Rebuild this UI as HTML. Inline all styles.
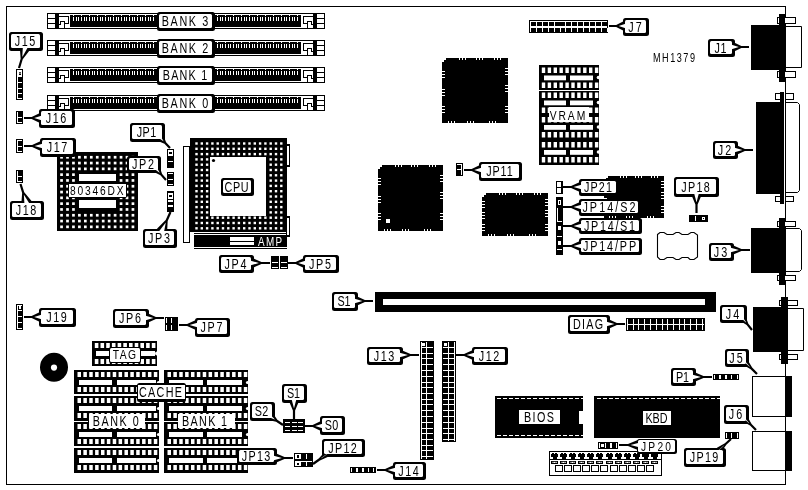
<!DOCTYPE html>
<html><head><meta charset="utf-8"><style>
html,body{margin:0;padding:0;background:#fff;width:808px;height:490px;overflow:hidden}
svg{display:block;filter:grayscale(1)}
</style></head><body>
<svg width="808" height="490" viewBox="0 0 808 490">
<rect x="0" y="0" width="808" height="490" fill="#fff"/>
<rect x="6" y="6" width="780" height="1" fill="#000"/>
<rect x="6" y="6" width="1" height="479" fill="#000"/>
<rect x="6" y="484" width="780" height="1" fill="#000"/>
<rect x="785" y="6" width="1" height="479" fill="#000"/>
<rect x="47" y="13" width="278" height="16" fill="#000"/>
<rect x="48" y="14" width="276" height="14" fill="#fff"/>
<rect x="55" y="14" width="1" height="14" fill="#000"/>
<rect x="48" y="18" width="8" height="1" fill="#000"/>
<rect x="48" y="23" width="8" height="1" fill="#000"/>
<rect x="56" y="14" width="3" height="14" fill="#000"/>
<rect x="59" y="16" width="10" height="1" fill="#000"/>
<rect x="68" y="16" width="1" height="8" fill="#000"/>
<rect x="64" y="23" width="5" height="1" fill="#000"/>
<rect x="64" y="21" width="1" height="7" fill="#000"/>
<rect x="60" y="21" width="5" height="1" fill="#000"/>
<rect x="60" y="21" width="1" height="4" fill="#000"/>
<rect x="59" y="24" width="2" height="1" fill="#000"/>
<rect x="70" y="15" width="88" height="12" fill="#000"/>
<rect x="214" y="15" width="87" height="12" fill="#000"/>
<rect x="73" y="17" width="1" height="4" fill="#fff"/>
<rect x="76" y="17" width="1" height="4" fill="#fff"/>
<rect x="78" y="17" width="1" height="4" fill="#fff"/>
<rect x="73" y="15" width="1" height="1" fill="#fff"/>
<rect x="81" y="17" width="1" height="4" fill="#fff"/>
<rect x="84" y="17" width="1" height="4" fill="#fff"/>
<rect x="86" y="17" width="1" height="4" fill="#fff"/>
<rect x="81" y="15" width="1" height="1" fill="#fff"/>
<rect x="89" y="17" width="1" height="4" fill="#fff"/>
<rect x="92" y="17" width="1" height="4" fill="#fff"/>
<rect x="94" y="17" width="1" height="4" fill="#fff"/>
<rect x="89" y="15" width="1" height="1" fill="#fff"/>
<rect x="97" y="17" width="1" height="4" fill="#fff"/>
<rect x="100" y="17" width="1" height="4" fill="#fff"/>
<rect x="102" y="17" width="1" height="4" fill="#fff"/>
<rect x="97" y="15" width="1" height="1" fill="#fff"/>
<rect x="105" y="17" width="1" height="4" fill="#fff"/>
<rect x="108" y="17" width="1" height="4" fill="#fff"/>
<rect x="110" y="17" width="1" height="4" fill="#fff"/>
<rect x="105" y="15" width="1" height="1" fill="#fff"/>
<rect x="113" y="17" width="1" height="4" fill="#fff"/>
<rect x="116" y="17" width="1" height="4" fill="#fff"/>
<rect x="118" y="17" width="1" height="4" fill="#fff"/>
<rect x="113" y="15" width="1" height="1" fill="#fff"/>
<rect x="121" y="17" width="1" height="4" fill="#fff"/>
<rect x="124" y="17" width="1" height="4" fill="#fff"/>
<rect x="126" y="17" width="1" height="4" fill="#fff"/>
<rect x="121" y="15" width="1" height="1" fill="#fff"/>
<rect x="129" y="17" width="1" height="4" fill="#fff"/>
<rect x="132" y="17" width="1" height="4" fill="#fff"/>
<rect x="134" y="17" width="1" height="4" fill="#fff"/>
<rect x="129" y="15" width="1" height="1" fill="#fff"/>
<rect x="137" y="17" width="1" height="4" fill="#fff"/>
<rect x="140" y="17" width="1" height="4" fill="#fff"/>
<rect x="142" y="17" width="1" height="4" fill="#fff"/>
<rect x="137" y="15" width="1" height="1" fill="#fff"/>
<rect x="145" y="17" width="1" height="4" fill="#fff"/>
<rect x="148" y="17" width="1" height="4" fill="#fff"/>
<rect x="150" y="17" width="1" height="4" fill="#fff"/>
<rect x="145" y="15" width="1" height="1" fill="#fff"/>
<rect x="153" y="17" width="1" height="4" fill="#fff"/>
<rect x="153" y="15" width="1" height="1" fill="#fff"/>
<rect x="217" y="17" width="1" height="4" fill="#fff"/>
<rect x="220" y="17" width="1" height="4" fill="#fff"/>
<rect x="222" y="17" width="1" height="4" fill="#fff"/>
<rect x="217" y="15" width="1" height="1" fill="#fff"/>
<rect x="225" y="17" width="1" height="4" fill="#fff"/>
<rect x="228" y="17" width="1" height="4" fill="#fff"/>
<rect x="230" y="17" width="1" height="4" fill="#fff"/>
<rect x="225" y="15" width="1" height="1" fill="#fff"/>
<rect x="233" y="17" width="1" height="4" fill="#fff"/>
<rect x="236" y="17" width="1" height="4" fill="#fff"/>
<rect x="238" y="17" width="1" height="4" fill="#fff"/>
<rect x="233" y="15" width="1" height="1" fill="#fff"/>
<rect x="241" y="17" width="1" height="4" fill="#fff"/>
<rect x="244" y="17" width="1" height="4" fill="#fff"/>
<rect x="246" y="17" width="1" height="4" fill="#fff"/>
<rect x="241" y="15" width="1" height="1" fill="#fff"/>
<rect x="249" y="17" width="1" height="4" fill="#fff"/>
<rect x="252" y="17" width="1" height="4" fill="#fff"/>
<rect x="254" y="17" width="1" height="4" fill="#fff"/>
<rect x="249" y="15" width="1" height="1" fill="#fff"/>
<rect x="257" y="17" width="1" height="4" fill="#fff"/>
<rect x="260" y="17" width="1" height="4" fill="#fff"/>
<rect x="262" y="17" width="1" height="4" fill="#fff"/>
<rect x="257" y="15" width="1" height="1" fill="#fff"/>
<rect x="265" y="17" width="1" height="4" fill="#fff"/>
<rect x="268" y="17" width="1" height="4" fill="#fff"/>
<rect x="270" y="17" width="1" height="4" fill="#fff"/>
<rect x="265" y="15" width="1" height="1" fill="#fff"/>
<rect x="273" y="17" width="1" height="4" fill="#fff"/>
<rect x="276" y="17" width="1" height="4" fill="#fff"/>
<rect x="278" y="17" width="1" height="4" fill="#fff"/>
<rect x="273" y="15" width="1" height="1" fill="#fff"/>
<rect x="281" y="17" width="1" height="4" fill="#fff"/>
<rect x="284" y="17" width="1" height="4" fill="#fff"/>
<rect x="286" y="17" width="1" height="4" fill="#fff"/>
<rect x="281" y="15" width="1" height="1" fill="#fff"/>
<rect x="289" y="17" width="1" height="4" fill="#fff"/>
<rect x="292" y="17" width="1" height="4" fill="#fff"/>
<rect x="294" y="17" width="1" height="4" fill="#fff"/>
<rect x="289" y="15" width="1" height="1" fill="#fff"/>
<rect x="297" y="17" width="1" height="4" fill="#fff"/>
<rect x="297" y="15" width="1" height="1" fill="#fff"/>
<rect x="303" y="16" width="10" height="1" fill="#000"/>
<rect x="303" y="16" width="1" height="8" fill="#000"/>
<rect x="303" y="23" width="5" height="1" fill="#000"/>
<rect x="307" y="21" width="1" height="7" fill="#000"/>
<rect x="307" y="21" width="5" height="1" fill="#000"/>
<rect x="311" y="21" width="1" height="4" fill="#000"/>
<rect x="311" y="24" width="2" height="1" fill="#000"/>
<rect x="313" y="14" width="3" height="14" fill="#000"/>
<rect x="316" y="14" width="1" height="14" fill="#000"/>
<rect x="316" y="18" width="8" height="1" fill="#000"/>
<rect x="316" y="23" width="8" height="1" fill="#000"/>
<rect x="47" y="40" width="278" height="16" fill="#000"/>
<rect x="48" y="41" width="276" height="14" fill="#fff"/>
<rect x="55" y="41" width="1" height="14" fill="#000"/>
<rect x="48" y="45" width="8" height="1" fill="#000"/>
<rect x="48" y="50" width="8" height="1" fill="#000"/>
<rect x="56" y="41" width="3" height="14" fill="#000"/>
<rect x="59" y="43" width="10" height="1" fill="#000"/>
<rect x="68" y="43" width="1" height="8" fill="#000"/>
<rect x="64" y="50" width="5" height="1" fill="#000"/>
<rect x="64" y="48" width="1" height="7" fill="#000"/>
<rect x="60" y="48" width="5" height="1" fill="#000"/>
<rect x="60" y="48" width="1" height="4" fill="#000"/>
<rect x="59" y="51" width="2" height="1" fill="#000"/>
<rect x="70" y="42" width="88" height="12" fill="#000"/>
<rect x="214" y="42" width="87" height="12" fill="#000"/>
<rect x="73" y="44" width="1" height="4" fill="#fff"/>
<rect x="76" y="44" width="1" height="4" fill="#fff"/>
<rect x="78" y="44" width="1" height="4" fill="#fff"/>
<rect x="73" y="42" width="1" height="1" fill="#fff"/>
<rect x="81" y="44" width="1" height="4" fill="#fff"/>
<rect x="84" y="44" width="1" height="4" fill="#fff"/>
<rect x="86" y="44" width="1" height="4" fill="#fff"/>
<rect x="81" y="42" width="1" height="1" fill="#fff"/>
<rect x="89" y="44" width="1" height="4" fill="#fff"/>
<rect x="92" y="44" width="1" height="4" fill="#fff"/>
<rect x="94" y="44" width="1" height="4" fill="#fff"/>
<rect x="89" y="42" width="1" height="1" fill="#fff"/>
<rect x="97" y="44" width="1" height="4" fill="#fff"/>
<rect x="100" y="44" width="1" height="4" fill="#fff"/>
<rect x="102" y="44" width="1" height="4" fill="#fff"/>
<rect x="97" y="42" width="1" height="1" fill="#fff"/>
<rect x="105" y="44" width="1" height="4" fill="#fff"/>
<rect x="108" y="44" width="1" height="4" fill="#fff"/>
<rect x="110" y="44" width="1" height="4" fill="#fff"/>
<rect x="105" y="42" width="1" height="1" fill="#fff"/>
<rect x="113" y="44" width="1" height="4" fill="#fff"/>
<rect x="116" y="44" width="1" height="4" fill="#fff"/>
<rect x="118" y="44" width="1" height="4" fill="#fff"/>
<rect x="113" y="42" width="1" height="1" fill="#fff"/>
<rect x="121" y="44" width="1" height="4" fill="#fff"/>
<rect x="124" y="44" width="1" height="4" fill="#fff"/>
<rect x="126" y="44" width="1" height="4" fill="#fff"/>
<rect x="121" y="42" width="1" height="1" fill="#fff"/>
<rect x="129" y="44" width="1" height="4" fill="#fff"/>
<rect x="132" y="44" width="1" height="4" fill="#fff"/>
<rect x="134" y="44" width="1" height="4" fill="#fff"/>
<rect x="129" y="42" width="1" height="1" fill="#fff"/>
<rect x="137" y="44" width="1" height="4" fill="#fff"/>
<rect x="140" y="44" width="1" height="4" fill="#fff"/>
<rect x="142" y="44" width="1" height="4" fill="#fff"/>
<rect x="137" y="42" width="1" height="1" fill="#fff"/>
<rect x="145" y="44" width="1" height="4" fill="#fff"/>
<rect x="148" y="44" width="1" height="4" fill="#fff"/>
<rect x="150" y="44" width="1" height="4" fill="#fff"/>
<rect x="145" y="42" width="1" height="1" fill="#fff"/>
<rect x="153" y="44" width="1" height="4" fill="#fff"/>
<rect x="153" y="42" width="1" height="1" fill="#fff"/>
<rect x="217" y="44" width="1" height="4" fill="#fff"/>
<rect x="220" y="44" width="1" height="4" fill="#fff"/>
<rect x="222" y="44" width="1" height="4" fill="#fff"/>
<rect x="217" y="42" width="1" height="1" fill="#fff"/>
<rect x="225" y="44" width="1" height="4" fill="#fff"/>
<rect x="228" y="44" width="1" height="4" fill="#fff"/>
<rect x="230" y="44" width="1" height="4" fill="#fff"/>
<rect x="225" y="42" width="1" height="1" fill="#fff"/>
<rect x="233" y="44" width="1" height="4" fill="#fff"/>
<rect x="236" y="44" width="1" height="4" fill="#fff"/>
<rect x="238" y="44" width="1" height="4" fill="#fff"/>
<rect x="233" y="42" width="1" height="1" fill="#fff"/>
<rect x="241" y="44" width="1" height="4" fill="#fff"/>
<rect x="244" y="44" width="1" height="4" fill="#fff"/>
<rect x="246" y="44" width="1" height="4" fill="#fff"/>
<rect x="241" y="42" width="1" height="1" fill="#fff"/>
<rect x="249" y="44" width="1" height="4" fill="#fff"/>
<rect x="252" y="44" width="1" height="4" fill="#fff"/>
<rect x="254" y="44" width="1" height="4" fill="#fff"/>
<rect x="249" y="42" width="1" height="1" fill="#fff"/>
<rect x="257" y="44" width="1" height="4" fill="#fff"/>
<rect x="260" y="44" width="1" height="4" fill="#fff"/>
<rect x="262" y="44" width="1" height="4" fill="#fff"/>
<rect x="257" y="42" width="1" height="1" fill="#fff"/>
<rect x="265" y="44" width="1" height="4" fill="#fff"/>
<rect x="268" y="44" width="1" height="4" fill="#fff"/>
<rect x="270" y="44" width="1" height="4" fill="#fff"/>
<rect x="265" y="42" width="1" height="1" fill="#fff"/>
<rect x="273" y="44" width="1" height="4" fill="#fff"/>
<rect x="276" y="44" width="1" height="4" fill="#fff"/>
<rect x="278" y="44" width="1" height="4" fill="#fff"/>
<rect x="273" y="42" width="1" height="1" fill="#fff"/>
<rect x="281" y="44" width="1" height="4" fill="#fff"/>
<rect x="284" y="44" width="1" height="4" fill="#fff"/>
<rect x="286" y="44" width="1" height="4" fill="#fff"/>
<rect x="281" y="42" width="1" height="1" fill="#fff"/>
<rect x="289" y="44" width="1" height="4" fill="#fff"/>
<rect x="292" y="44" width="1" height="4" fill="#fff"/>
<rect x="294" y="44" width="1" height="4" fill="#fff"/>
<rect x="289" y="42" width="1" height="1" fill="#fff"/>
<rect x="297" y="44" width="1" height="4" fill="#fff"/>
<rect x="297" y="42" width="1" height="1" fill="#fff"/>
<rect x="303" y="43" width="10" height="1" fill="#000"/>
<rect x="303" y="43" width="1" height="8" fill="#000"/>
<rect x="303" y="50" width="5" height="1" fill="#000"/>
<rect x="307" y="48" width="1" height="7" fill="#000"/>
<rect x="307" y="48" width="5" height="1" fill="#000"/>
<rect x="311" y="48" width="1" height="4" fill="#000"/>
<rect x="311" y="51" width="2" height="1" fill="#000"/>
<rect x="313" y="41" width="3" height="14" fill="#000"/>
<rect x="316" y="41" width="1" height="14" fill="#000"/>
<rect x="316" y="45" width="8" height="1" fill="#000"/>
<rect x="316" y="50" width="8" height="1" fill="#000"/>
<rect x="47" y="67" width="278" height="16" fill="#000"/>
<rect x="48" y="68" width="276" height="14" fill="#fff"/>
<rect x="55" y="68" width="1" height="14" fill="#000"/>
<rect x="48" y="72" width="8" height="1" fill="#000"/>
<rect x="48" y="77" width="8" height="1" fill="#000"/>
<rect x="56" y="68" width="3" height="14" fill="#000"/>
<rect x="59" y="70" width="10" height="1" fill="#000"/>
<rect x="68" y="70" width="1" height="8" fill="#000"/>
<rect x="64" y="77" width="5" height="1" fill="#000"/>
<rect x="64" y="75" width="1" height="7" fill="#000"/>
<rect x="60" y="75" width="5" height="1" fill="#000"/>
<rect x="60" y="75" width="1" height="4" fill="#000"/>
<rect x="59" y="78" width="2" height="1" fill="#000"/>
<rect x="70" y="69" width="88" height="12" fill="#000"/>
<rect x="214" y="69" width="87" height="12" fill="#000"/>
<rect x="73" y="71" width="1" height="4" fill="#fff"/>
<rect x="76" y="71" width="1" height="4" fill="#fff"/>
<rect x="78" y="71" width="1" height="4" fill="#fff"/>
<rect x="73" y="69" width="1" height="1" fill="#fff"/>
<rect x="81" y="71" width="1" height="4" fill="#fff"/>
<rect x="84" y="71" width="1" height="4" fill="#fff"/>
<rect x="86" y="71" width="1" height="4" fill="#fff"/>
<rect x="81" y="69" width="1" height="1" fill="#fff"/>
<rect x="89" y="71" width="1" height="4" fill="#fff"/>
<rect x="92" y="71" width="1" height="4" fill="#fff"/>
<rect x="94" y="71" width="1" height="4" fill="#fff"/>
<rect x="89" y="69" width="1" height="1" fill="#fff"/>
<rect x="97" y="71" width="1" height="4" fill="#fff"/>
<rect x="100" y="71" width="1" height="4" fill="#fff"/>
<rect x="102" y="71" width="1" height="4" fill="#fff"/>
<rect x="97" y="69" width="1" height="1" fill="#fff"/>
<rect x="105" y="71" width="1" height="4" fill="#fff"/>
<rect x="108" y="71" width="1" height="4" fill="#fff"/>
<rect x="110" y="71" width="1" height="4" fill="#fff"/>
<rect x="105" y="69" width="1" height="1" fill="#fff"/>
<rect x="113" y="71" width="1" height="4" fill="#fff"/>
<rect x="116" y="71" width="1" height="4" fill="#fff"/>
<rect x="118" y="71" width="1" height="4" fill="#fff"/>
<rect x="113" y="69" width="1" height="1" fill="#fff"/>
<rect x="121" y="71" width="1" height="4" fill="#fff"/>
<rect x="124" y="71" width="1" height="4" fill="#fff"/>
<rect x="126" y="71" width="1" height="4" fill="#fff"/>
<rect x="121" y="69" width="1" height="1" fill="#fff"/>
<rect x="129" y="71" width="1" height="4" fill="#fff"/>
<rect x="132" y="71" width="1" height="4" fill="#fff"/>
<rect x="134" y="71" width="1" height="4" fill="#fff"/>
<rect x="129" y="69" width="1" height="1" fill="#fff"/>
<rect x="137" y="71" width="1" height="4" fill="#fff"/>
<rect x="140" y="71" width="1" height="4" fill="#fff"/>
<rect x="142" y="71" width="1" height="4" fill="#fff"/>
<rect x="137" y="69" width="1" height="1" fill="#fff"/>
<rect x="145" y="71" width="1" height="4" fill="#fff"/>
<rect x="148" y="71" width="1" height="4" fill="#fff"/>
<rect x="150" y="71" width="1" height="4" fill="#fff"/>
<rect x="145" y="69" width="1" height="1" fill="#fff"/>
<rect x="153" y="71" width="1" height="4" fill="#fff"/>
<rect x="153" y="69" width="1" height="1" fill="#fff"/>
<rect x="217" y="71" width="1" height="4" fill="#fff"/>
<rect x="220" y="71" width="1" height="4" fill="#fff"/>
<rect x="222" y="71" width="1" height="4" fill="#fff"/>
<rect x="217" y="69" width="1" height="1" fill="#fff"/>
<rect x="225" y="71" width="1" height="4" fill="#fff"/>
<rect x="228" y="71" width="1" height="4" fill="#fff"/>
<rect x="230" y="71" width="1" height="4" fill="#fff"/>
<rect x="225" y="69" width="1" height="1" fill="#fff"/>
<rect x="233" y="71" width="1" height="4" fill="#fff"/>
<rect x="236" y="71" width="1" height="4" fill="#fff"/>
<rect x="238" y="71" width="1" height="4" fill="#fff"/>
<rect x="233" y="69" width="1" height="1" fill="#fff"/>
<rect x="241" y="71" width="1" height="4" fill="#fff"/>
<rect x="244" y="71" width="1" height="4" fill="#fff"/>
<rect x="246" y="71" width="1" height="4" fill="#fff"/>
<rect x="241" y="69" width="1" height="1" fill="#fff"/>
<rect x="249" y="71" width="1" height="4" fill="#fff"/>
<rect x="252" y="71" width="1" height="4" fill="#fff"/>
<rect x="254" y="71" width="1" height="4" fill="#fff"/>
<rect x="249" y="69" width="1" height="1" fill="#fff"/>
<rect x="257" y="71" width="1" height="4" fill="#fff"/>
<rect x="260" y="71" width="1" height="4" fill="#fff"/>
<rect x="262" y="71" width="1" height="4" fill="#fff"/>
<rect x="257" y="69" width="1" height="1" fill="#fff"/>
<rect x="265" y="71" width="1" height="4" fill="#fff"/>
<rect x="268" y="71" width="1" height="4" fill="#fff"/>
<rect x="270" y="71" width="1" height="4" fill="#fff"/>
<rect x="265" y="69" width="1" height="1" fill="#fff"/>
<rect x="273" y="71" width="1" height="4" fill="#fff"/>
<rect x="276" y="71" width="1" height="4" fill="#fff"/>
<rect x="278" y="71" width="1" height="4" fill="#fff"/>
<rect x="273" y="69" width="1" height="1" fill="#fff"/>
<rect x="281" y="71" width="1" height="4" fill="#fff"/>
<rect x="284" y="71" width="1" height="4" fill="#fff"/>
<rect x="286" y="71" width="1" height="4" fill="#fff"/>
<rect x="281" y="69" width="1" height="1" fill="#fff"/>
<rect x="289" y="71" width="1" height="4" fill="#fff"/>
<rect x="292" y="71" width="1" height="4" fill="#fff"/>
<rect x="294" y="71" width="1" height="4" fill="#fff"/>
<rect x="289" y="69" width="1" height="1" fill="#fff"/>
<rect x="297" y="71" width="1" height="4" fill="#fff"/>
<rect x="297" y="69" width="1" height="1" fill="#fff"/>
<rect x="303" y="70" width="10" height="1" fill="#000"/>
<rect x="303" y="70" width="1" height="8" fill="#000"/>
<rect x="303" y="77" width="5" height="1" fill="#000"/>
<rect x="307" y="75" width="1" height="7" fill="#000"/>
<rect x="307" y="75" width="5" height="1" fill="#000"/>
<rect x="311" y="75" width="1" height="4" fill="#000"/>
<rect x="311" y="78" width="2" height="1" fill="#000"/>
<rect x="313" y="68" width="3" height="14" fill="#000"/>
<rect x="316" y="68" width="1" height="14" fill="#000"/>
<rect x="316" y="72" width="8" height="1" fill="#000"/>
<rect x="316" y="77" width="8" height="1" fill="#000"/>
<rect x="47" y="95" width="278" height="16" fill="#000"/>
<rect x="48" y="96" width="276" height="14" fill="#fff"/>
<rect x="55" y="96" width="1" height="14" fill="#000"/>
<rect x="48" y="100" width="8" height="1" fill="#000"/>
<rect x="48" y="105" width="8" height="1" fill="#000"/>
<rect x="56" y="96" width="3" height="14" fill="#000"/>
<rect x="59" y="98" width="10" height="1" fill="#000"/>
<rect x="68" y="98" width="1" height="8" fill="#000"/>
<rect x="64" y="105" width="5" height="1" fill="#000"/>
<rect x="64" y="103" width="1" height="7" fill="#000"/>
<rect x="60" y="103" width="5" height="1" fill="#000"/>
<rect x="60" y="103" width="1" height="4" fill="#000"/>
<rect x="59" y="106" width="2" height="1" fill="#000"/>
<rect x="70" y="97" width="88" height="12" fill="#000"/>
<rect x="214" y="97" width="87" height="12" fill="#000"/>
<rect x="73" y="99" width="1" height="4" fill="#fff"/>
<rect x="76" y="99" width="1" height="4" fill="#fff"/>
<rect x="78" y="99" width="1" height="4" fill="#fff"/>
<rect x="73" y="97" width="1" height="1" fill="#fff"/>
<rect x="81" y="99" width="1" height="4" fill="#fff"/>
<rect x="84" y="99" width="1" height="4" fill="#fff"/>
<rect x="86" y="99" width="1" height="4" fill="#fff"/>
<rect x="81" y="97" width="1" height="1" fill="#fff"/>
<rect x="89" y="99" width="1" height="4" fill="#fff"/>
<rect x="92" y="99" width="1" height="4" fill="#fff"/>
<rect x="94" y="99" width="1" height="4" fill="#fff"/>
<rect x="89" y="97" width="1" height="1" fill="#fff"/>
<rect x="97" y="99" width="1" height="4" fill="#fff"/>
<rect x="100" y="99" width="1" height="4" fill="#fff"/>
<rect x="102" y="99" width="1" height="4" fill="#fff"/>
<rect x="97" y="97" width="1" height="1" fill="#fff"/>
<rect x="105" y="99" width="1" height="4" fill="#fff"/>
<rect x="108" y="99" width="1" height="4" fill="#fff"/>
<rect x="110" y="99" width="1" height="4" fill="#fff"/>
<rect x="105" y="97" width="1" height="1" fill="#fff"/>
<rect x="113" y="99" width="1" height="4" fill="#fff"/>
<rect x="116" y="99" width="1" height="4" fill="#fff"/>
<rect x="118" y="99" width="1" height="4" fill="#fff"/>
<rect x="113" y="97" width="1" height="1" fill="#fff"/>
<rect x="121" y="99" width="1" height="4" fill="#fff"/>
<rect x="124" y="99" width="1" height="4" fill="#fff"/>
<rect x="126" y="99" width="1" height="4" fill="#fff"/>
<rect x="121" y="97" width="1" height="1" fill="#fff"/>
<rect x="129" y="99" width="1" height="4" fill="#fff"/>
<rect x="132" y="99" width="1" height="4" fill="#fff"/>
<rect x="134" y="99" width="1" height="4" fill="#fff"/>
<rect x="129" y="97" width="1" height="1" fill="#fff"/>
<rect x="137" y="99" width="1" height="4" fill="#fff"/>
<rect x="140" y="99" width="1" height="4" fill="#fff"/>
<rect x="142" y="99" width="1" height="4" fill="#fff"/>
<rect x="137" y="97" width="1" height="1" fill="#fff"/>
<rect x="145" y="99" width="1" height="4" fill="#fff"/>
<rect x="148" y="99" width="1" height="4" fill="#fff"/>
<rect x="150" y="99" width="1" height="4" fill="#fff"/>
<rect x="145" y="97" width="1" height="1" fill="#fff"/>
<rect x="153" y="99" width="1" height="4" fill="#fff"/>
<rect x="153" y="97" width="1" height="1" fill="#fff"/>
<rect x="217" y="99" width="1" height="4" fill="#fff"/>
<rect x="220" y="99" width="1" height="4" fill="#fff"/>
<rect x="222" y="99" width="1" height="4" fill="#fff"/>
<rect x="217" y="97" width="1" height="1" fill="#fff"/>
<rect x="225" y="99" width="1" height="4" fill="#fff"/>
<rect x="228" y="99" width="1" height="4" fill="#fff"/>
<rect x="230" y="99" width="1" height="4" fill="#fff"/>
<rect x="225" y="97" width="1" height="1" fill="#fff"/>
<rect x="233" y="99" width="1" height="4" fill="#fff"/>
<rect x="236" y="99" width="1" height="4" fill="#fff"/>
<rect x="238" y="99" width="1" height="4" fill="#fff"/>
<rect x="233" y="97" width="1" height="1" fill="#fff"/>
<rect x="241" y="99" width="1" height="4" fill="#fff"/>
<rect x="244" y="99" width="1" height="4" fill="#fff"/>
<rect x="246" y="99" width="1" height="4" fill="#fff"/>
<rect x="241" y="97" width="1" height="1" fill="#fff"/>
<rect x="249" y="99" width="1" height="4" fill="#fff"/>
<rect x="252" y="99" width="1" height="4" fill="#fff"/>
<rect x="254" y="99" width="1" height="4" fill="#fff"/>
<rect x="249" y="97" width="1" height="1" fill="#fff"/>
<rect x="257" y="99" width="1" height="4" fill="#fff"/>
<rect x="260" y="99" width="1" height="4" fill="#fff"/>
<rect x="262" y="99" width="1" height="4" fill="#fff"/>
<rect x="257" y="97" width="1" height="1" fill="#fff"/>
<rect x="265" y="99" width="1" height="4" fill="#fff"/>
<rect x="268" y="99" width="1" height="4" fill="#fff"/>
<rect x="270" y="99" width="1" height="4" fill="#fff"/>
<rect x="265" y="97" width="1" height="1" fill="#fff"/>
<rect x="273" y="99" width="1" height="4" fill="#fff"/>
<rect x="276" y="99" width="1" height="4" fill="#fff"/>
<rect x="278" y="99" width="1" height="4" fill="#fff"/>
<rect x="273" y="97" width="1" height="1" fill="#fff"/>
<rect x="281" y="99" width="1" height="4" fill="#fff"/>
<rect x="284" y="99" width="1" height="4" fill="#fff"/>
<rect x="286" y="99" width="1" height="4" fill="#fff"/>
<rect x="281" y="97" width="1" height="1" fill="#fff"/>
<rect x="289" y="99" width="1" height="4" fill="#fff"/>
<rect x="292" y="99" width="1" height="4" fill="#fff"/>
<rect x="294" y="99" width="1" height="4" fill="#fff"/>
<rect x="289" y="97" width="1" height="1" fill="#fff"/>
<rect x="297" y="99" width="1" height="4" fill="#fff"/>
<rect x="297" y="97" width="1" height="1" fill="#fff"/>
<rect x="303" y="98" width="10" height="1" fill="#000"/>
<rect x="303" y="98" width="1" height="8" fill="#000"/>
<rect x="303" y="105" width="5" height="1" fill="#000"/>
<rect x="307" y="103" width="1" height="7" fill="#000"/>
<rect x="307" y="103" width="5" height="1" fill="#000"/>
<rect x="311" y="103" width="1" height="4" fill="#000"/>
<rect x="311" y="106" width="2" height="1" fill="#000"/>
<rect x="313" y="96" width="3" height="14" fill="#000"/>
<rect x="316" y="96" width="1" height="14" fill="#000"/>
<rect x="316" y="100" width="8" height="1" fill="#000"/>
<rect x="316" y="105" width="8" height="1" fill="#000"/>
<rect x="16" y="69" width="7" height="31" fill="#000"/>
<rect x="17" y="70" width="1" height="29" fill="#fff"/>
<rect x="17" y="70" width="5" height="1" fill="#fff"/>
<rect x="17" y="98" width="5" height="1" fill="#fff"/>
<rect x="18" y="71" width="4" height="5" fill="#fff"/>
<rect x="19" y="72" width="2" height="3" fill="#000"/>
<rect x="19.5" y="72.5" width="1" height="1.5" fill="#fff"/>
<rect x="17" y="76" width="5" height="1" fill="#fff"/>
<rect x="17" y="82" width="5" height="1" fill="#fff"/>
<rect x="17" y="88" width="5" height="1" fill="#fff"/>
<rect x="17" y="93" width="5" height="1" fill="#fff"/>
<rect x="16" y="111" width="7" height="13" fill="#000"/>
<rect x="17" y="112" width="1" height="11" fill="#fff"/>
<rect x="17" y="117" width="5" height="1" fill="#fff"/>
<rect x="17" y="122" width="5" height="1" fill="#fff"/>
<rect x="16" y="139" width="7" height="14" fill="#000"/>
<rect x="17" y="140" width="1" height="12" fill="#fff"/>
<rect x="17" y="140" width="5" height="1" fill="#fff"/>
<rect x="17" y="146" width="5" height="1" fill="#fff"/>
<rect x="17" y="151" width="5" height="1" fill="#fff"/>
<rect x="16" y="170" width="7" height="13" fill="#000"/>
<rect x="17" y="171" width="1" height="11" fill="#fff"/>
<rect x="17" y="176" width="5" height="1" fill="#fff"/>
<rect x="17" y="181" width="5" height="1" fill="#fff"/>
<rect x="16" y="304" width="7" height="26" fill="#000"/>
<rect x="17" y="305" width="1" height="24" fill="#fff"/>
<rect x="17" y="305" width="5" height="1" fill="#fff"/>
<rect x="17" y="328" width="5" height="1" fill="#fff"/>
<rect x="19" y="306" width="2" height="3" fill="#fff"/>
<rect x="17" y="310" width="5" height="1" fill="#fff"/>
<rect x="17" y="316" width="5" height="1" fill="#fff"/>
<rect x="17" y="322" width="5" height="1" fill="#fff"/>
<rect x="167" y="149" width="7" height="19" fill="#000"/>
<rect x="168" y="150" width="5" height="6" fill="#fff"/>
<rect x="169" y="152" width="3" height="2" fill="#000"/>
<rect x="168" y="161" width="5" height="1" fill="#fff"/>
<rect x="167" y="172" width="7" height="14" fill="#000"/>
<rect x="168" y="173" width="5" height="1" fill="#fff"/>
<rect x="168" y="179" width="5" height="1" fill="#fff"/>
<rect x="168" y="184" width="5" height="1" fill="#fff"/>
<rect x="167" y="191" width="7" height="21" fill="#000"/>
<rect x="168" y="193" width="5" height="6" fill="#fff"/>
<rect x="169" y="195" width="3" height="2" fill="#000"/>
<rect x="168" y="200" width="5" height="2" fill="#fff"/>
<rect x="168" y="205" width="5" height="2" fill="#fff"/>
<rect x="57" y="152" width="81" height="79" fill="#000"/>
<rect x="60.2" y="155.9" width="2.7" height="2.7" fill="#fff"/>
<rect x="66.15" y="155.9" width="2.7" height="2.7" fill="#fff"/>
<rect x="72.1" y="155.9" width="2.7" height="2.7" fill="#fff"/>
<rect x="78.05" y="155.9" width="2.7" height="2.7" fill="#fff"/>
<rect x="84" y="155.9" width="2.7" height="2.7" fill="#fff"/>
<rect x="89.95" y="155.9" width="2.7" height="2.7" fill="#fff"/>
<rect x="95.9" y="155.9" width="2.7" height="2.7" fill="#fff"/>
<rect x="101.85" y="155.9" width="2.7" height="2.7" fill="#fff"/>
<rect x="107.8" y="155.9" width="2.7" height="2.7" fill="#fff"/>
<rect x="113.75" y="155.9" width="2.7" height="2.7" fill="#fff"/>
<rect x="119.7" y="155.9" width="2.7" height="2.7" fill="#fff"/>
<rect x="125.65" y="155.9" width="2.7" height="2.7" fill="#fff"/>
<rect x="131.6" y="155.9" width="2.7" height="2.7" fill="#fff"/>
<rect x="60.2" y="161.7" width="2.7" height="2.7" fill="#fff"/>
<rect x="66.15" y="161.7" width="2.7" height="2.7" fill="#fff"/>
<rect x="72.1" y="161.7" width="2.7" height="2.7" fill="#fff"/>
<rect x="78.05" y="161.7" width="2.7" height="2.7" fill="#fff"/>
<rect x="84" y="161.7" width="2.7" height="2.7" fill="#fff"/>
<rect x="89.95" y="161.7" width="2.7" height="2.7" fill="#fff"/>
<rect x="95.9" y="161.7" width="2.7" height="2.7" fill="#fff"/>
<rect x="101.85" y="161.7" width="2.7" height="2.7" fill="#fff"/>
<rect x="107.8" y="161.7" width="2.7" height="2.7" fill="#fff"/>
<rect x="113.75" y="161.7" width="2.7" height="2.7" fill="#fff"/>
<rect x="119.7" y="161.7" width="2.7" height="2.7" fill="#fff"/>
<rect x="125.65" y="161.7" width="2.7" height="2.7" fill="#fff"/>
<rect x="131.6" y="161.7" width="2.7" height="2.7" fill="#fff"/>
<rect x="60.2" y="167.5" width="2.7" height="2.7" fill="#fff"/>
<rect x="66.15" y="167.5" width="2.7" height="2.7" fill="#fff"/>
<rect x="72.1" y="167.5" width="2.7" height="2.7" fill="#fff"/>
<rect x="78.05" y="167.5" width="2.7" height="2.7" fill="#fff"/>
<rect x="84" y="167.5" width="2.7" height="2.7" fill="#fff"/>
<rect x="89.95" y="167.5" width="2.7" height="2.7" fill="#fff"/>
<rect x="95.9" y="167.5" width="2.7" height="2.7" fill="#fff"/>
<rect x="101.85" y="167.5" width="2.7" height="2.7" fill="#fff"/>
<rect x="107.8" y="167.5" width="2.7" height="2.7" fill="#fff"/>
<rect x="113.75" y="167.5" width="2.7" height="2.7" fill="#fff"/>
<rect x="119.7" y="167.5" width="2.7" height="2.7" fill="#fff"/>
<rect x="125.65" y="167.5" width="2.7" height="2.7" fill="#fff"/>
<rect x="131.6" y="167.5" width="2.7" height="2.7" fill="#fff"/>
<rect x="60.2" y="173.3" width="2.7" height="2.7" fill="#fff"/>
<rect x="66.15" y="173.3" width="2.7" height="2.7" fill="#fff"/>
<rect x="72.1" y="173.3" width="2.7" height="2.7" fill="#fff"/>
<rect x="119.7" y="173.3" width="2.7" height="2.7" fill="#fff"/>
<rect x="125.65" y="173.3" width="2.7" height="2.7" fill="#fff"/>
<rect x="131.6" y="173.3" width="2.7" height="2.7" fill="#fff"/>
<rect x="60.2" y="179.1" width="2.7" height="2.7" fill="#fff"/>
<rect x="66.15" y="179.1" width="2.7" height="2.7" fill="#fff"/>
<rect x="72.1" y="179.1" width="2.7" height="2.7" fill="#fff"/>
<rect x="119.7" y="179.1" width="2.7" height="2.7" fill="#fff"/>
<rect x="125.65" y="179.1" width="2.7" height="2.7" fill="#fff"/>
<rect x="131.6" y="179.1" width="2.7" height="2.7" fill="#fff"/>
<rect x="60.2" y="184.9" width="2.7" height="2.7" fill="#fff"/>
<rect x="66.15" y="184.9" width="2.7" height="2.7" fill="#fff"/>
<rect x="72.1" y="184.9" width="2.7" height="2.7" fill="#fff"/>
<rect x="119.7" y="184.9" width="2.7" height="2.7" fill="#fff"/>
<rect x="125.65" y="184.9" width="2.7" height="2.7" fill="#fff"/>
<rect x="131.6" y="184.9" width="2.7" height="2.7" fill="#fff"/>
<rect x="60.2" y="190.7" width="2.7" height="2.7" fill="#fff"/>
<rect x="66.15" y="190.7" width="2.7" height="2.7" fill="#fff"/>
<rect x="72.1" y="190.7" width="2.7" height="2.7" fill="#fff"/>
<rect x="119.7" y="190.7" width="2.7" height="2.7" fill="#fff"/>
<rect x="125.65" y="190.7" width="2.7" height="2.7" fill="#fff"/>
<rect x="131.6" y="190.7" width="2.7" height="2.7" fill="#fff"/>
<rect x="60.2" y="196.5" width="2.7" height="2.7" fill="#fff"/>
<rect x="66.15" y="196.5" width="2.7" height="2.7" fill="#fff"/>
<rect x="72.1" y="196.5" width="2.7" height="2.7" fill="#fff"/>
<rect x="119.7" y="196.5" width="2.7" height="2.7" fill="#fff"/>
<rect x="125.65" y="196.5" width="2.7" height="2.7" fill="#fff"/>
<rect x="131.6" y="196.5" width="2.7" height="2.7" fill="#fff"/>
<rect x="60.2" y="202.3" width="2.7" height="2.7" fill="#fff"/>
<rect x="66.15" y="202.3" width="2.7" height="2.7" fill="#fff"/>
<rect x="72.1" y="202.3" width="2.7" height="2.7" fill="#fff"/>
<rect x="119.7" y="202.3" width="2.7" height="2.7" fill="#fff"/>
<rect x="125.65" y="202.3" width="2.7" height="2.7" fill="#fff"/>
<rect x="131.6" y="202.3" width="2.7" height="2.7" fill="#fff"/>
<rect x="60.2" y="208.1" width="2.7" height="2.7" fill="#fff"/>
<rect x="66.15" y="208.1" width="2.7" height="2.7" fill="#fff"/>
<rect x="72.1" y="208.1" width="2.7" height="2.7" fill="#fff"/>
<rect x="119.7" y="208.1" width="2.7" height="2.7" fill="#fff"/>
<rect x="125.65" y="208.1" width="2.7" height="2.7" fill="#fff"/>
<rect x="131.6" y="208.1" width="2.7" height="2.7" fill="#fff"/>
<rect x="60.2" y="213.9" width="2.7" height="2.7" fill="#fff"/>
<rect x="66.15" y="213.9" width="2.7" height="2.7" fill="#fff"/>
<rect x="72.1" y="213.9" width="2.7" height="2.7" fill="#fff"/>
<rect x="78.05" y="213.9" width="2.7" height="2.7" fill="#fff"/>
<rect x="84" y="213.9" width="2.7" height="2.7" fill="#fff"/>
<rect x="89.95" y="213.9" width="2.7" height="2.7" fill="#fff"/>
<rect x="95.9" y="213.9" width="2.7" height="2.7" fill="#fff"/>
<rect x="101.85" y="213.9" width="2.7" height="2.7" fill="#fff"/>
<rect x="107.8" y="213.9" width="2.7" height="2.7" fill="#fff"/>
<rect x="113.75" y="213.9" width="2.7" height="2.7" fill="#fff"/>
<rect x="119.7" y="213.9" width="2.7" height="2.7" fill="#fff"/>
<rect x="125.65" y="213.9" width="2.7" height="2.7" fill="#fff"/>
<rect x="131.6" y="213.9" width="2.7" height="2.7" fill="#fff"/>
<rect x="60.2" y="219.7" width="2.7" height="2.7" fill="#fff"/>
<rect x="66.15" y="219.7" width="2.7" height="2.7" fill="#fff"/>
<rect x="72.1" y="219.7" width="2.7" height="2.7" fill="#fff"/>
<rect x="78.05" y="219.7" width="2.7" height="2.7" fill="#fff"/>
<rect x="84" y="219.7" width="2.7" height="2.7" fill="#fff"/>
<rect x="89.95" y="219.7" width="2.7" height="2.7" fill="#fff"/>
<rect x="95.9" y="219.7" width="2.7" height="2.7" fill="#fff"/>
<rect x="101.85" y="219.7" width="2.7" height="2.7" fill="#fff"/>
<rect x="107.8" y="219.7" width="2.7" height="2.7" fill="#fff"/>
<rect x="113.75" y="219.7" width="2.7" height="2.7" fill="#fff"/>
<rect x="119.7" y="219.7" width="2.7" height="2.7" fill="#fff"/>
<rect x="125.65" y="219.7" width="2.7" height="2.7" fill="#fff"/>
<rect x="131.6" y="219.7" width="2.7" height="2.7" fill="#fff"/>
<rect x="60.2" y="225.5" width="2.7" height="2.7" fill="#fff"/>
<rect x="66.15" y="225.5" width="2.7" height="2.7" fill="#fff"/>
<rect x="72.1" y="225.5" width="2.7" height="2.7" fill="#fff"/>
<rect x="78.05" y="225.5" width="2.7" height="2.7" fill="#fff"/>
<rect x="84" y="225.5" width="2.7" height="2.7" fill="#fff"/>
<rect x="89.95" y="225.5" width="2.7" height="2.7" fill="#fff"/>
<rect x="95.9" y="225.5" width="2.7" height="2.7" fill="#fff"/>
<rect x="101.85" y="225.5" width="2.7" height="2.7" fill="#fff"/>
<rect x="107.8" y="225.5" width="2.7" height="2.7" fill="#fff"/>
<rect x="113.75" y="225.5" width="2.7" height="2.7" fill="#fff"/>
<rect x="119.7" y="225.5" width="2.7" height="2.7" fill="#fff"/>
<rect x="125.65" y="225.5" width="2.7" height="2.7" fill="#fff"/>
<rect x="131.6" y="225.5" width="2.7" height="2.7" fill="#fff"/>
<rect x="79" y="174" width="37" height="7" fill="#fff"/>
<rect x="79" y="200" width="37" height="8" fill="#fff"/>
<rect x="183" y="146" width="7" height="97" fill="#000"/>
<rect x="184" y="147" width="5" height="95" fill="#fff"/>
<rect x="190" y="138" width="97" height="94" fill="#000"/>
<rect x="195.3" y="142.3" width="2.4" height="2.4" fill="#fff"/>
<rect x="200.6" y="142.3" width="2.4" height="2.4" fill="#fff"/>
<rect x="205.9" y="142.3" width="2.4" height="2.4" fill="#fff"/>
<rect x="211.2" y="142.3" width="2.4" height="2.4" fill="#fff"/>
<rect x="216.5" y="142.3" width="2.4" height="2.4" fill="#fff"/>
<rect x="221.8" y="142.3" width="2.4" height="2.4" fill="#fff"/>
<rect x="227.1" y="142.3" width="2.4" height="2.4" fill="#fff"/>
<rect x="232.4" y="142.3" width="2.4" height="2.4" fill="#fff"/>
<rect x="237.7" y="142.3" width="2.4" height="2.4" fill="#fff"/>
<rect x="243" y="142.3" width="2.4" height="2.4" fill="#fff"/>
<rect x="248.3" y="142.3" width="2.4" height="2.4" fill="#fff"/>
<rect x="253.6" y="142.3" width="2.4" height="2.4" fill="#fff"/>
<rect x="258.9" y="142.3" width="2.4" height="2.4" fill="#fff"/>
<rect x="264.2" y="142.3" width="2.4" height="2.4" fill="#fff"/>
<rect x="269.5" y="142.3" width="2.4" height="2.4" fill="#fff"/>
<rect x="274.8" y="142.3" width="2.4" height="2.4" fill="#fff"/>
<rect x="280.1" y="142.3" width="2.4" height="2.4" fill="#fff"/>
<rect x="195.3" y="147.6" width="2.4" height="2.4" fill="#fff"/>
<rect x="200.6" y="147.6" width="2.4" height="2.4" fill="#fff"/>
<rect x="205.9" y="147.6" width="2.4" height="2.4" fill="#fff"/>
<rect x="211.2" y="147.6" width="2.4" height="2.4" fill="#fff"/>
<rect x="216.5" y="147.6" width="2.4" height="2.4" fill="#fff"/>
<rect x="221.8" y="147.6" width="2.4" height="2.4" fill="#fff"/>
<rect x="227.1" y="147.6" width="2.4" height="2.4" fill="#fff"/>
<rect x="232.4" y="147.6" width="2.4" height="2.4" fill="#fff"/>
<rect x="237.7" y="147.6" width="2.4" height="2.4" fill="#fff"/>
<rect x="243" y="147.6" width="2.4" height="2.4" fill="#fff"/>
<rect x="248.3" y="147.6" width="2.4" height="2.4" fill="#fff"/>
<rect x="253.6" y="147.6" width="2.4" height="2.4" fill="#fff"/>
<rect x="258.9" y="147.6" width="2.4" height="2.4" fill="#fff"/>
<rect x="264.2" y="147.6" width="2.4" height="2.4" fill="#fff"/>
<rect x="269.5" y="147.6" width="2.4" height="2.4" fill="#fff"/>
<rect x="274.8" y="147.6" width="2.4" height="2.4" fill="#fff"/>
<rect x="280.1" y="147.6" width="2.4" height="2.4" fill="#fff"/>
<rect x="195.3" y="152.9" width="2.4" height="2.4" fill="#fff"/>
<rect x="200.6" y="152.9" width="2.4" height="2.4" fill="#fff"/>
<rect x="205.9" y="152.9" width="2.4" height="2.4" fill="#fff"/>
<rect x="211.2" y="152.9" width="2.4" height="2.4" fill="#fff"/>
<rect x="216.5" y="152.9" width="2.4" height="2.4" fill="#fff"/>
<rect x="221.8" y="152.9" width="2.4" height="2.4" fill="#fff"/>
<rect x="227.1" y="152.9" width="2.4" height="2.4" fill="#fff"/>
<rect x="232.4" y="152.9" width="2.4" height="2.4" fill="#fff"/>
<rect x="237.7" y="152.9" width="2.4" height="2.4" fill="#fff"/>
<rect x="243" y="152.9" width="2.4" height="2.4" fill="#fff"/>
<rect x="248.3" y="152.9" width="2.4" height="2.4" fill="#fff"/>
<rect x="253.6" y="152.9" width="2.4" height="2.4" fill="#fff"/>
<rect x="258.9" y="152.9" width="2.4" height="2.4" fill="#fff"/>
<rect x="264.2" y="152.9" width="2.4" height="2.4" fill="#fff"/>
<rect x="269.5" y="152.9" width="2.4" height="2.4" fill="#fff"/>
<rect x="274.8" y="152.9" width="2.4" height="2.4" fill="#fff"/>
<rect x="280.1" y="152.9" width="2.4" height="2.4" fill="#fff"/>
<rect x="195.3" y="158.2" width="2.4" height="2.4" fill="#fff"/>
<rect x="200.6" y="158.2" width="2.4" height="2.4" fill="#fff"/>
<rect x="205.9" y="158.2" width="2.4" height="2.4" fill="#fff"/>
<rect x="269.5" y="158.2" width="2.4" height="2.4" fill="#fff"/>
<rect x="274.8" y="158.2" width="2.4" height="2.4" fill="#fff"/>
<rect x="280.1" y="158.2" width="2.4" height="2.4" fill="#fff"/>
<rect x="195.3" y="163.5" width="2.4" height="2.4" fill="#fff"/>
<rect x="200.6" y="163.5" width="2.4" height="2.4" fill="#fff"/>
<rect x="205.9" y="163.5" width="2.4" height="2.4" fill="#fff"/>
<rect x="269.5" y="163.5" width="2.4" height="2.4" fill="#fff"/>
<rect x="274.8" y="163.5" width="2.4" height="2.4" fill="#fff"/>
<rect x="280.1" y="163.5" width="2.4" height="2.4" fill="#fff"/>
<rect x="195.3" y="168.8" width="2.4" height="2.4" fill="#fff"/>
<rect x="200.6" y="168.8" width="2.4" height="2.4" fill="#fff"/>
<rect x="205.9" y="168.8" width="2.4" height="2.4" fill="#fff"/>
<rect x="269.5" y="168.8" width="2.4" height="2.4" fill="#fff"/>
<rect x="274.8" y="168.8" width="2.4" height="2.4" fill="#fff"/>
<rect x="280.1" y="168.8" width="2.4" height="2.4" fill="#fff"/>
<rect x="195.3" y="174.1" width="2.4" height="2.4" fill="#fff"/>
<rect x="200.6" y="174.1" width="2.4" height="2.4" fill="#fff"/>
<rect x="205.9" y="174.1" width="2.4" height="2.4" fill="#fff"/>
<rect x="269.5" y="174.1" width="2.4" height="2.4" fill="#fff"/>
<rect x="274.8" y="174.1" width="2.4" height="2.4" fill="#fff"/>
<rect x="280.1" y="174.1" width="2.4" height="2.4" fill="#fff"/>
<rect x="195.3" y="179.4" width="2.4" height="2.4" fill="#fff"/>
<rect x="200.6" y="179.4" width="2.4" height="2.4" fill="#fff"/>
<rect x="205.9" y="179.4" width="2.4" height="2.4" fill="#fff"/>
<rect x="269.5" y="179.4" width="2.4" height="2.4" fill="#fff"/>
<rect x="274.8" y="179.4" width="2.4" height="2.4" fill="#fff"/>
<rect x="280.1" y="179.4" width="2.4" height="2.4" fill="#fff"/>
<rect x="195.3" y="184.7" width="2.4" height="2.4" fill="#fff"/>
<rect x="200.6" y="184.7" width="2.4" height="2.4" fill="#fff"/>
<rect x="205.9" y="184.7" width="2.4" height="2.4" fill="#fff"/>
<rect x="269.5" y="184.7" width="2.4" height="2.4" fill="#fff"/>
<rect x="274.8" y="184.7" width="2.4" height="2.4" fill="#fff"/>
<rect x="280.1" y="184.7" width="2.4" height="2.4" fill="#fff"/>
<rect x="195.3" y="190" width="2.4" height="2.4" fill="#fff"/>
<rect x="200.6" y="190" width="2.4" height="2.4" fill="#fff"/>
<rect x="205.9" y="190" width="2.4" height="2.4" fill="#fff"/>
<rect x="269.5" y="190" width="2.4" height="2.4" fill="#fff"/>
<rect x="274.8" y="190" width="2.4" height="2.4" fill="#fff"/>
<rect x="280.1" y="190" width="2.4" height="2.4" fill="#fff"/>
<rect x="195.3" y="195.3" width="2.4" height="2.4" fill="#fff"/>
<rect x="200.6" y="195.3" width="2.4" height="2.4" fill="#fff"/>
<rect x="205.9" y="195.3" width="2.4" height="2.4" fill="#fff"/>
<rect x="269.5" y="195.3" width="2.4" height="2.4" fill="#fff"/>
<rect x="274.8" y="195.3" width="2.4" height="2.4" fill="#fff"/>
<rect x="280.1" y="195.3" width="2.4" height="2.4" fill="#fff"/>
<rect x="195.3" y="200.6" width="2.4" height="2.4" fill="#fff"/>
<rect x="200.6" y="200.6" width="2.4" height="2.4" fill="#fff"/>
<rect x="205.9" y="200.6" width="2.4" height="2.4" fill="#fff"/>
<rect x="269.5" y="200.6" width="2.4" height="2.4" fill="#fff"/>
<rect x="274.8" y="200.6" width="2.4" height="2.4" fill="#fff"/>
<rect x="280.1" y="200.6" width="2.4" height="2.4" fill="#fff"/>
<rect x="195.3" y="205.9" width="2.4" height="2.4" fill="#fff"/>
<rect x="200.6" y="205.9" width="2.4" height="2.4" fill="#fff"/>
<rect x="205.9" y="205.9" width="2.4" height="2.4" fill="#fff"/>
<rect x="269.5" y="205.9" width="2.4" height="2.4" fill="#fff"/>
<rect x="274.8" y="205.9" width="2.4" height="2.4" fill="#fff"/>
<rect x="280.1" y="205.9" width="2.4" height="2.4" fill="#fff"/>
<rect x="195.3" y="211.2" width="2.4" height="2.4" fill="#fff"/>
<rect x="200.6" y="211.2" width="2.4" height="2.4" fill="#fff"/>
<rect x="205.9" y="211.2" width="2.4" height="2.4" fill="#fff"/>
<rect x="269.5" y="211.2" width="2.4" height="2.4" fill="#fff"/>
<rect x="274.8" y="211.2" width="2.4" height="2.4" fill="#fff"/>
<rect x="280.1" y="211.2" width="2.4" height="2.4" fill="#fff"/>
<rect x="195.3" y="216.5" width="2.4" height="2.4" fill="#fff"/>
<rect x="200.6" y="216.5" width="2.4" height="2.4" fill="#fff"/>
<rect x="205.9" y="216.5" width="2.4" height="2.4" fill="#fff"/>
<rect x="211.2" y="216.5" width="2.4" height="2.4" fill="#fff"/>
<rect x="216.5" y="216.5" width="2.4" height="2.4" fill="#fff"/>
<rect x="221.8" y="216.5" width="2.4" height="2.4" fill="#fff"/>
<rect x="227.1" y="216.5" width="2.4" height="2.4" fill="#fff"/>
<rect x="232.4" y="216.5" width="2.4" height="2.4" fill="#fff"/>
<rect x="237.7" y="216.5" width="2.4" height="2.4" fill="#fff"/>
<rect x="243" y="216.5" width="2.4" height="2.4" fill="#fff"/>
<rect x="248.3" y="216.5" width="2.4" height="2.4" fill="#fff"/>
<rect x="253.6" y="216.5" width="2.4" height="2.4" fill="#fff"/>
<rect x="258.9" y="216.5" width="2.4" height="2.4" fill="#fff"/>
<rect x="264.2" y="216.5" width="2.4" height="2.4" fill="#fff"/>
<rect x="269.5" y="216.5" width="2.4" height="2.4" fill="#fff"/>
<rect x="274.8" y="216.5" width="2.4" height="2.4" fill="#fff"/>
<rect x="280.1" y="216.5" width="2.4" height="2.4" fill="#fff"/>
<rect x="195.3" y="221.8" width="2.4" height="2.4" fill="#fff"/>
<rect x="200.6" y="221.8" width="2.4" height="2.4" fill="#fff"/>
<rect x="205.9" y="221.8" width="2.4" height="2.4" fill="#fff"/>
<rect x="211.2" y="221.8" width="2.4" height="2.4" fill="#fff"/>
<rect x="216.5" y="221.8" width="2.4" height="2.4" fill="#fff"/>
<rect x="221.8" y="221.8" width="2.4" height="2.4" fill="#fff"/>
<rect x="227.1" y="221.8" width="2.4" height="2.4" fill="#fff"/>
<rect x="232.4" y="221.8" width="2.4" height="2.4" fill="#fff"/>
<rect x="237.7" y="221.8" width="2.4" height="2.4" fill="#fff"/>
<rect x="243" y="221.8" width="2.4" height="2.4" fill="#fff"/>
<rect x="248.3" y="221.8" width="2.4" height="2.4" fill="#fff"/>
<rect x="253.6" y="221.8" width="2.4" height="2.4" fill="#fff"/>
<rect x="258.9" y="221.8" width="2.4" height="2.4" fill="#fff"/>
<rect x="264.2" y="221.8" width="2.4" height="2.4" fill="#fff"/>
<rect x="269.5" y="221.8" width="2.4" height="2.4" fill="#fff"/>
<rect x="274.8" y="221.8" width="2.4" height="2.4" fill="#fff"/>
<rect x="280.1" y="221.8" width="2.4" height="2.4" fill="#fff"/>
<rect x="195.3" y="227.1" width="2.4" height="2.4" fill="#fff"/>
<rect x="200.6" y="227.1" width="2.4" height="2.4" fill="#fff"/>
<rect x="205.9" y="227.1" width="2.4" height="2.4" fill="#fff"/>
<rect x="211.2" y="227.1" width="2.4" height="2.4" fill="#fff"/>
<rect x="216.5" y="227.1" width="2.4" height="2.4" fill="#fff"/>
<rect x="221.8" y="227.1" width="2.4" height="2.4" fill="#fff"/>
<rect x="227.1" y="227.1" width="2.4" height="2.4" fill="#fff"/>
<rect x="232.4" y="227.1" width="2.4" height="2.4" fill="#fff"/>
<rect x="237.7" y="227.1" width="2.4" height="2.4" fill="#fff"/>
<rect x="243" y="227.1" width="2.4" height="2.4" fill="#fff"/>
<rect x="248.3" y="227.1" width="2.4" height="2.4" fill="#fff"/>
<rect x="253.6" y="227.1" width="2.4" height="2.4" fill="#fff"/>
<rect x="258.9" y="227.1" width="2.4" height="2.4" fill="#fff"/>
<rect x="264.2" y="227.1" width="2.4" height="2.4" fill="#fff"/>
<rect x="269.5" y="227.1" width="2.4" height="2.4" fill="#fff"/>
<rect x="274.8" y="227.1" width="2.4" height="2.4" fill="#fff"/>
<rect x="280.1" y="227.1" width="2.4" height="2.4" fill="#fff"/>
<rect x="210" y="157" width="56" height="59" fill="#fff"/>
<circle cx="213.5" cy="160.5" r="1.6" fill="#000"/>
<rect x="286" y="144" width="4" height="23" fill="#000"/>
<rect x="287" y="146" width="2" height="19" fill="#fff"/>
<rect x="286" y="216" width="4" height="21" fill="#000"/>
<rect x="287" y="218" width="2" height="17" fill="#fff"/>
<rect x="194" y="233" width="93" height="1" fill="#000"/>
<rect x="194" y="235" width="93" height="12" fill="#000"/>
<rect x="194" y="248" width="93" height="1" fill="#000"/>
<rect x="230" y="237" width="24" height="4" fill="#fff"/>
<rect x="230" y="242" width="24" height="3" fill="#fff"/>
<g transform="translate(258,245.5) scale(0.76,1)"><text x="0" y="0" font-family='"Liberation Sans", sans-serif' font-size="13" fill="#fff" textLength="31.5789" lengthAdjust="spacing">AMP</text></g>
<rect x="271" y="256" width="8" height="13" fill="#000"/>
<rect x="280" y="256" width="8" height="13" fill="#000"/>
<rect x="272" y="262" width="6" height="1" fill="#fff"/>
<rect x="272" y="267" width="6" height="1" fill="#fff"/>
<rect x="281" y="262" width="6" height="1" fill="#fff"/>
<rect x="281" y="267" width="6" height="1" fill="#fff"/>
<rect x="375" y="292" width="341" height="20" fill="#000"/>
<rect x="383" y="299" width="322" height="6" fill="#fff"/>
<rect x="626" y="318" width="79" height="13" fill="#000"/>
<rect x="627" y="319" width="1" height="11" fill="#fff"/>
<rect x="633" y="319" width="1" height="11" fill="#fff"/>
<rect x="638" y="319" width="1" height="11" fill="#fff"/>
<rect x="644" y="319" width="1" height="11" fill="#fff"/>
<rect x="650" y="319" width="1" height="11" fill="#fff"/>
<rect x="656" y="319" width="1" height="11" fill="#fff"/>
<rect x="662" y="319" width="1" height="11" fill="#fff"/>
<rect x="667" y="319" width="1" height="11" fill="#fff"/>
<rect x="673" y="319" width="1" height="11" fill="#fff"/>
<rect x="679" y="319" width="1" height="11" fill="#fff"/>
<rect x="684" y="319" width="1" height="11" fill="#fff"/>
<rect x="690" y="319" width="1" height="11" fill="#fff"/>
<rect x="696" y="319" width="1" height="11" fill="#fff"/>
<rect x="702" y="319" width="1" height="11" fill="#fff"/>
<rect x="627" y="324" width="77" height="1" fill="#fff"/>
<path d="M446,58 H508 V123 H442 V62 L444,62 L444,60 L446,60 Z" fill="#000"/>
<rect x="459" y="58" width="1" height="2" fill="#fff"/>
<rect x="462" y="58" width="1" height="2" fill="#fff"/>
<rect x="465" y="58" width="1" height="2" fill="#fff"/>
<rect x="476" y="58" width="1" height="2" fill="#fff"/>
<rect x="479" y="58" width="1" height="2" fill="#fff"/>
<rect x="482" y="58" width="1" height="2" fill="#fff"/>
<rect x="494" y="58" width="1" height="2" fill="#fff"/>
<rect x="497" y="58" width="1" height="2" fill="#fff"/>
<rect x="500" y="58" width="1" height="2" fill="#fff"/>
<rect x="448" y="121" width="1" height="2" fill="#fff"/>
<rect x="451" y="121" width="1" height="2" fill="#fff"/>
<rect x="454" y="121" width="1" height="2" fill="#fff"/>
<rect x="467" y="121" width="1" height="2" fill="#fff"/>
<rect x="470" y="121" width="1" height="2" fill="#fff"/>
<rect x="473" y="121" width="1" height="2" fill="#fff"/>
<rect x="489" y="121" width="1" height="2" fill="#fff"/>
<rect x="492" y="121" width="1" height="2" fill="#fff"/>
<rect x="495" y="121" width="1" height="2" fill="#fff"/>
<rect x="442" y="71" width="3" height="1" fill="#fff"/>
<rect x="442" y="74" width="3" height="1" fill="#fff"/>
<rect x="442" y="77" width="3" height="1" fill="#fff"/>
<rect x="442" y="89" width="3" height="1" fill="#fff"/>
<rect x="442" y="92" width="3" height="1" fill="#fff"/>
<rect x="442" y="95" width="3" height="1" fill="#fff"/>
<rect x="442" y="106" width="3" height="1" fill="#fff"/>
<rect x="442" y="109" width="3" height="1" fill="#fff"/>
<rect x="442" y="112" width="3" height="1" fill="#fff"/>
<rect x="505" y="68" width="3" height="1" fill="#fff"/>
<rect x="505" y="71" width="3" height="1" fill="#fff"/>
<rect x="505" y="74" width="3" height="1" fill="#fff"/>
<rect x="505" y="85" width="3" height="1" fill="#fff"/>
<rect x="505" y="88" width="3" height="1" fill="#fff"/>
<rect x="505" y="91" width="3" height="1" fill="#fff"/>
<rect x="505" y="106" width="3" height="1" fill="#fff"/>
<rect x="505" y="109" width="3" height="1" fill="#fff"/>
<rect x="505" y="112" width="3" height="1" fill="#fff"/>
<path d="M382,165 H443 V231 H378 V169 L380,169 L380,167 L382,167 Z" fill="#000"/>
<rect x="395" y="165" width="1" height="2" fill="#fff"/>
<rect x="398" y="165" width="1" height="2" fill="#fff"/>
<rect x="401" y="165" width="1" height="2" fill="#fff"/>
<rect x="411" y="165" width="1" height="2" fill="#fff"/>
<rect x="414" y="165" width="1" height="2" fill="#fff"/>
<rect x="417" y="165" width="1" height="2" fill="#fff"/>
<rect x="429" y="165" width="1" height="2" fill="#fff"/>
<rect x="432" y="165" width="1" height="2" fill="#fff"/>
<rect x="435" y="165" width="1" height="2" fill="#fff"/>
<rect x="384" y="229" width="1" height="2" fill="#fff"/>
<rect x="387" y="229" width="1" height="2" fill="#fff"/>
<rect x="390" y="229" width="1" height="2" fill="#fff"/>
<rect x="402" y="229" width="1" height="2" fill="#fff"/>
<rect x="405" y="229" width="1" height="2" fill="#fff"/>
<rect x="408" y="229" width="1" height="2" fill="#fff"/>
<rect x="424" y="229" width="1" height="2" fill="#fff"/>
<rect x="427" y="229" width="1" height="2" fill="#fff"/>
<rect x="430" y="229" width="1" height="2" fill="#fff"/>
<rect x="378" y="178" width="3" height="1" fill="#fff"/>
<rect x="378" y="181" width="3" height="1" fill="#fff"/>
<rect x="378" y="184" width="3" height="1" fill="#fff"/>
<rect x="378" y="196" width="3" height="1" fill="#fff"/>
<rect x="378" y="199" width="3" height="1" fill="#fff"/>
<rect x="378" y="202" width="3" height="1" fill="#fff"/>
<rect x="378" y="213" width="3" height="1" fill="#fff"/>
<rect x="378" y="216" width="3" height="1" fill="#fff"/>
<rect x="378" y="219" width="3" height="1" fill="#fff"/>
<rect x="440" y="175" width="3" height="1" fill="#fff"/>
<rect x="440" y="178" width="3" height="1" fill="#fff"/>
<rect x="440" y="181" width="3" height="1" fill="#fff"/>
<rect x="440" y="192" width="3" height="1" fill="#fff"/>
<rect x="440" y="195" width="3" height="1" fill="#fff"/>
<rect x="440" y="198" width="3" height="1" fill="#fff"/>
<rect x="440" y="213" width="3" height="1" fill="#fff"/>
<rect x="440" y="216" width="3" height="1" fill="#fff"/>
<rect x="440" y="219" width="3" height="1" fill="#fff"/>
<rect x="386" y="219" width="4" height="4" fill="#fff"/>
<path d="M486,193 H548 V236 H482 V197 L484,197 L484,195 L486,195 Z" fill="#000"/>
<rect x="499" y="193" width="1" height="2" fill="#fff"/>
<rect x="502" y="193" width="1" height="2" fill="#fff"/>
<rect x="505" y="193" width="1" height="2" fill="#fff"/>
<rect x="516" y="193" width="1" height="2" fill="#fff"/>
<rect x="519" y="193" width="1" height="2" fill="#fff"/>
<rect x="522" y="193" width="1" height="2" fill="#fff"/>
<rect x="534" y="193" width="1" height="2" fill="#fff"/>
<rect x="537" y="193" width="1" height="2" fill="#fff"/>
<rect x="540" y="193" width="1" height="2" fill="#fff"/>
<rect x="488" y="234" width="1" height="2" fill="#fff"/>
<rect x="491" y="234" width="1" height="2" fill="#fff"/>
<rect x="494" y="234" width="1" height="2" fill="#fff"/>
<rect x="507" y="234" width="1" height="2" fill="#fff"/>
<rect x="510" y="234" width="1" height="2" fill="#fff"/>
<rect x="513" y="234" width="1" height="2" fill="#fff"/>
<rect x="529" y="234" width="1" height="2" fill="#fff"/>
<rect x="532" y="234" width="1" height="2" fill="#fff"/>
<rect x="535" y="234" width="1" height="2" fill="#fff"/>
<rect x="482" y="201" width="3" height="1" fill="#fff"/>
<rect x="482" y="204" width="3" height="1" fill="#fff"/>
<rect x="482" y="207" width="3" height="1" fill="#fff"/>
<rect x="482" y="212" width="3" height="1" fill="#fff"/>
<rect x="482" y="215" width="3" height="1" fill="#fff"/>
<rect x="482" y="218" width="3" height="1" fill="#fff"/>
<rect x="482" y="224" width="3" height="1" fill="#fff"/>
<rect x="482" y="227" width="3" height="1" fill="#fff"/>
<rect x="482" y="230" width="3" height="1" fill="#fff"/>
<rect x="545" y="199" width="3" height="1" fill="#fff"/>
<rect x="545" y="202" width="3" height="1" fill="#fff"/>
<rect x="545" y="205" width="3" height="1" fill="#fff"/>
<rect x="545" y="210" width="3" height="1" fill="#fff"/>
<rect x="545" y="213" width="3" height="1" fill="#fff"/>
<rect x="545" y="216" width="3" height="1" fill="#fff"/>
<rect x="545" y="224" width="3" height="1" fill="#fff"/>
<rect x="545" y="227" width="3" height="1" fill="#fff"/>
<rect x="545" y="230" width="3" height="1" fill="#fff"/>
<path d="M608,176 H664 V218 H604 V180 L606,180 L606,178 L608,178 Z" fill="#000"/>
<rect x="620" y="176" width="1" height="2" fill="#fff"/>
<rect x="623" y="176" width="1" height="2" fill="#fff"/>
<rect x="626" y="176" width="1" height="2" fill="#fff"/>
<rect x="635" y="176" width="1" height="2" fill="#fff"/>
<rect x="638" y="176" width="1" height="2" fill="#fff"/>
<rect x="641" y="176" width="1" height="2" fill="#fff"/>
<rect x="651" y="176" width="1" height="2" fill="#fff"/>
<rect x="654" y="176" width="1" height="2" fill="#fff"/>
<rect x="657" y="176" width="1" height="2" fill="#fff"/>
<rect x="609" y="216" width="1" height="2" fill="#fff"/>
<rect x="612" y="216" width="1" height="2" fill="#fff"/>
<rect x="615" y="216" width="1" height="2" fill="#fff"/>
<rect x="626" y="216" width="1" height="2" fill="#fff"/>
<rect x="629" y="216" width="1" height="2" fill="#fff"/>
<rect x="632" y="216" width="1" height="2" fill="#fff"/>
<rect x="647" y="216" width="1" height="2" fill="#fff"/>
<rect x="650" y="216" width="1" height="2" fill="#fff"/>
<rect x="653" y="216" width="1" height="2" fill="#fff"/>
<rect x="604" y="183" width="3" height="1" fill="#fff"/>
<rect x="604" y="186" width="3" height="1" fill="#fff"/>
<rect x="604" y="189" width="3" height="1" fill="#fff"/>
<rect x="604" y="195" width="3" height="1" fill="#fff"/>
<rect x="604" y="198" width="3" height="1" fill="#fff"/>
<rect x="604" y="201" width="3" height="1" fill="#fff"/>
<rect x="604" y="206" width="3" height="1" fill="#fff"/>
<rect x="604" y="209" width="3" height="1" fill="#fff"/>
<rect x="604" y="212" width="3" height="1" fill="#fff"/>
<rect x="661" y="181" width="3" height="1" fill="#fff"/>
<rect x="661" y="184" width="3" height="1" fill="#fff"/>
<rect x="661" y="187" width="3" height="1" fill="#fff"/>
<rect x="661" y="192" width="3" height="1" fill="#fff"/>
<rect x="661" y="195" width="3" height="1" fill="#fff"/>
<rect x="661" y="198" width="3" height="1" fill="#fff"/>
<rect x="661" y="206" width="3" height="1" fill="#fff"/>
<rect x="661" y="209" width="3" height="1" fill="#fff"/>
<rect x="661" y="212" width="3" height="1" fill="#fff"/>
<rect x="456" y="163" width="7" height="13" fill="#000"/>
<rect x="457" y="164" width="5" height="1" fill="#fff"/>
<rect x="461" y="164" width="1" height="11" fill="#fff"/>
<rect x="457" y="169" width="5" height="1" fill="#fff"/>
<rect x="539" y="65" width="60" height="100" fill="#000"/>
<rect x="541.8" y="67.5" width="3.4" height="5.5" fill="#fff"/>
<rect x="547.7" y="67.5" width="3.4" height="5.5" fill="#fff"/>
<rect x="553.6" y="67.5" width="3.4" height="5.5" fill="#fff"/>
<rect x="559.5" y="67.5" width="3.4" height="5.5" fill="#fff"/>
<rect x="565.4" y="67.5" width="3.4" height="5.5" fill="#fff"/>
<rect x="571.3" y="67.5" width="3.4" height="5.5" fill="#fff"/>
<rect x="577.2" y="67.5" width="3.4" height="5.5" fill="#fff"/>
<rect x="583.1" y="67.5" width="3.4" height="5.5" fill="#fff"/>
<rect x="589" y="67.5" width="3.4" height="5.5" fill="#fff"/>
<rect x="594.9" y="67.5" width="3.4" height="5.5" fill="#fff"/>
<rect x="544" y="75.5" width="22" height="4.8" fill="#fff"/>
<rect x="570" y="75.5" width="23" height="4.8" fill="#fff"/>
<rect x="541.8" y="82.5" width="3.4" height="5.5" fill="#fff"/>
<rect x="547.7" y="82.5" width="3.4" height="5.5" fill="#fff"/>
<rect x="553.6" y="82.5" width="3.4" height="5.5" fill="#fff"/>
<rect x="559.5" y="82.5" width="3.4" height="5.5" fill="#fff"/>
<rect x="565.4" y="82.5" width="3.4" height="5.5" fill="#fff"/>
<rect x="571.3" y="82.5" width="3.4" height="5.5" fill="#fff"/>
<rect x="577.2" y="82.5" width="3.4" height="5.5" fill="#fff"/>
<rect x="583.1" y="82.5" width="3.4" height="5.5" fill="#fff"/>
<rect x="589" y="82.5" width="3.4" height="5.5" fill="#fff"/>
<rect x="594.9" y="82.5" width="3.4" height="5.5" fill="#fff"/>
<rect x="539" y="90" width="60" height="1" fill="#fff"/>
<rect x="541.8" y="92.5" width="3.4" height="5.5" fill="#fff"/>
<rect x="547.7" y="92.5" width="3.4" height="5.5" fill="#fff"/>
<rect x="553.6" y="92.5" width="3.4" height="5.5" fill="#fff"/>
<rect x="559.5" y="92.5" width="3.4" height="5.5" fill="#fff"/>
<rect x="565.4" y="92.5" width="3.4" height="5.5" fill="#fff"/>
<rect x="571.3" y="92.5" width="3.4" height="5.5" fill="#fff"/>
<rect x="577.2" y="92.5" width="3.4" height="5.5" fill="#fff"/>
<rect x="583.1" y="92.5" width="3.4" height="5.5" fill="#fff"/>
<rect x="589" y="92.5" width="3.4" height="5.5" fill="#fff"/>
<rect x="594.9" y="92.5" width="3.4" height="5.5" fill="#fff"/>
<rect x="544" y="100.5" width="22" height="4.8" fill="#fff"/>
<rect x="570" y="100.5" width="23" height="4.8" fill="#fff"/>
<rect x="541.8" y="107.5" width="3.4" height="5.5" fill="#fff"/>
<rect x="547.7" y="107.5" width="3.4" height="5.5" fill="#fff"/>
<rect x="553.6" y="107.5" width="3.4" height="5.5" fill="#fff"/>
<rect x="559.5" y="107.5" width="3.4" height="5.5" fill="#fff"/>
<rect x="565.4" y="107.5" width="3.4" height="5.5" fill="#fff"/>
<rect x="571.3" y="107.5" width="3.4" height="5.5" fill="#fff"/>
<rect x="577.2" y="107.5" width="3.4" height="5.5" fill="#fff"/>
<rect x="583.1" y="107.5" width="3.4" height="5.5" fill="#fff"/>
<rect x="589" y="107.5" width="3.4" height="5.5" fill="#fff"/>
<rect x="594.9" y="107.5" width="3.4" height="5.5" fill="#fff"/>
<rect x="541.8" y="117" width="3.4" height="5.5" fill="#fff"/>
<rect x="547.7" y="117" width="3.4" height="5.5" fill="#fff"/>
<rect x="553.6" y="117" width="3.4" height="5.5" fill="#fff"/>
<rect x="559.5" y="117" width="3.4" height="5.5" fill="#fff"/>
<rect x="565.4" y="117" width="3.4" height="5.5" fill="#fff"/>
<rect x="571.3" y="117" width="3.4" height="5.5" fill="#fff"/>
<rect x="577.2" y="117" width="3.4" height="5.5" fill="#fff"/>
<rect x="583.1" y="117" width="3.4" height="5.5" fill="#fff"/>
<rect x="589" y="117" width="3.4" height="5.5" fill="#fff"/>
<rect x="594.9" y="117" width="3.4" height="5.5" fill="#fff"/>
<rect x="544" y="125" width="22" height="4.8" fill="#fff"/>
<rect x="570" y="125" width="23" height="4.8" fill="#fff"/>
<rect x="541.8" y="132" width="3.4" height="5.5" fill="#fff"/>
<rect x="547.7" y="132" width="3.4" height="5.5" fill="#fff"/>
<rect x="553.6" y="132" width="3.4" height="5.5" fill="#fff"/>
<rect x="559.5" y="132" width="3.4" height="5.5" fill="#fff"/>
<rect x="565.4" y="132" width="3.4" height="5.5" fill="#fff"/>
<rect x="571.3" y="132" width="3.4" height="5.5" fill="#fff"/>
<rect x="577.2" y="132" width="3.4" height="5.5" fill="#fff"/>
<rect x="583.1" y="132" width="3.4" height="5.5" fill="#fff"/>
<rect x="589" y="132" width="3.4" height="5.5" fill="#fff"/>
<rect x="594.9" y="132" width="3.4" height="5.5" fill="#fff"/>
<rect x="541.8" y="142" width="3.4" height="5.5" fill="#fff"/>
<rect x="547.7" y="142" width="3.4" height="5.5" fill="#fff"/>
<rect x="553.6" y="142" width="3.4" height="5.5" fill="#fff"/>
<rect x="559.5" y="142" width="3.4" height="5.5" fill="#fff"/>
<rect x="565.4" y="142" width="3.4" height="5.5" fill="#fff"/>
<rect x="571.3" y="142" width="3.4" height="5.5" fill="#fff"/>
<rect x="577.2" y="142" width="3.4" height="5.5" fill="#fff"/>
<rect x="583.1" y="142" width="3.4" height="5.5" fill="#fff"/>
<rect x="589" y="142" width="3.4" height="5.5" fill="#fff"/>
<rect x="594.9" y="142" width="3.4" height="5.5" fill="#fff"/>
<rect x="544" y="150" width="22" height="4.8" fill="#fff"/>
<rect x="570" y="150" width="23" height="4.8" fill="#fff"/>
<rect x="541.8" y="157" width="3.4" height="5.5" fill="#fff"/>
<rect x="547.7" y="157" width="3.4" height="5.5" fill="#fff"/>
<rect x="553.6" y="157" width="3.4" height="5.5" fill="#fff"/>
<rect x="559.5" y="157" width="3.4" height="5.5" fill="#fff"/>
<rect x="565.4" y="157" width="3.4" height="5.5" fill="#fff"/>
<rect x="571.3" y="157" width="3.4" height="5.5" fill="#fff"/>
<rect x="577.2" y="157" width="3.4" height="5.5" fill="#fff"/>
<rect x="583.1" y="157" width="3.4" height="5.5" fill="#fff"/>
<rect x="589" y="157" width="3.4" height="5.5" fill="#fff"/>
<rect x="594.9" y="157" width="3.4" height="5.5" fill="#fff"/>
<circle cx="598.5" cy="77.5" r="1.8" fill="#fff"/>
<circle cx="598.5" cy="102.5" r="1.8" fill="#fff"/>
<circle cx="598.5" cy="127" r="1.8" fill="#fff"/>
<circle cx="598.5" cy="152" r="1.8" fill="#fff"/>
<rect x="549" y="107" width="40" height="15" fill="#fff"/>
<g transform="translate(549.75,119.5) scale(0.76,1)"><text x="0" y="0" font-family='"Liberation Sans", sans-serif' font-size="13.6" fill="#000" textLength="46.7105" lengthAdjust="spacing">VRAM</text></g>
<rect x="529" y="20" width="79" height="13" fill="#000"/>
<rect x="530" y="21" width="77" height="11" fill="#fff"/>
<rect x="531" y="22" width="5" height="4" fill="#000"/>
<rect x="537" y="22" width="5" height="4" fill="#000"/>
<rect x="543" y="22" width="5" height="4" fill="#000"/>
<rect x="549" y="22" width="5" height="4" fill="#000"/>
<rect x="555" y="22" width="5" height="4" fill="#000"/>
<rect x="560" y="22" width="5" height="4" fill="#000"/>
<rect x="566" y="22" width="5" height="4" fill="#000"/>
<rect x="572" y="22" width="5" height="4" fill="#000"/>
<rect x="578" y="22" width="5" height="4" fill="#000"/>
<rect x="584" y="22" width="5" height="4" fill="#000"/>
<rect x="590" y="22" width="5" height="4" fill="#000"/>
<rect x="596" y="22" width="5" height="4" fill="#000"/>
<rect x="602" y="22" width="5" height="4" fill="#000"/>
<rect x="530" y="28" width="77" height="5" fill="#000"/>
<rect x="530" y="28" width="1" height="4" fill="#fff"/>
<rect x="536" y="28" width="1" height="4" fill="#fff"/>
<rect x="542" y="28" width="1" height="4" fill="#fff"/>
<rect x="548" y="28" width="1" height="4" fill="#fff"/>
<rect x="554" y="28" width="1" height="4" fill="#fff"/>
<rect x="560" y="28" width="1" height="4" fill="#fff"/>
<rect x="565" y="28" width="1" height="4" fill="#fff"/>
<rect x="571" y="28" width="1" height="4" fill="#fff"/>
<rect x="577" y="28" width="1" height="4" fill="#fff"/>
<rect x="583" y="28" width="1" height="4" fill="#fff"/>
<rect x="589" y="28" width="1" height="4" fill="#fff"/>
<rect x="595" y="28" width="1" height="4" fill="#fff"/>
<rect x="601" y="28" width="1" height="4" fill="#fff"/>
<rect x="607" y="28" width="1" height="4" fill="#fff"/>
<g transform="translate(653,61.7) scale(0.7,1)"><text x="0" y="0" font-family='"Liberation Sans", sans-serif' font-size="13" fill="#000" textLength="60" lengthAdjust="spacing">MH1379</text></g>
<rect x="777" y="17" width="19" height="7" fill="#000"/>
<rect x="778" y="18" width="17" height="5" fill="#fff"/>
<rect x="777" y="71" width="19" height="7" fill="#000"/>
<rect x="778" y="72" width="17" height="5" fill="#fff"/>
<rect x="779" y="14" width="6" height="68" fill="#000"/>
<rect x="751" y="25" width="34" height="45" fill="#000"/>
<path d="M784.5,26.5 H801.5 L801.5,26.5 V67.5 L801.5,67.5 H784.5" fill="none" stroke="#000" stroke-width="1"/>
<rect x="775" y="93" width="19" height="7" fill="#000"/>
<rect x="776" y="94" width="17" height="5" fill="#fff"/>
<rect x="775" y="196" width="19" height="6" fill="#000"/>
<rect x="776" y="197" width="17" height="4" fill="#fff"/>
<rect x="780" y="92" width="4" height="112" fill="#000"/>
<rect x="756" y="102" width="28" height="92" fill="#000"/>
<path d="M783.5,102.5 H797.5 L799.5,104.5 V190.5 L797.5,192.5 H783.5" fill="none" stroke="#000" stroke-width="1"/>
<rect x="784" y="92" width="1" height="112" fill="#fff"/>
<rect x="785" y="92" width="1" height="112" fill="#000"/>
<rect x="777" y="221" width="19" height="6" fill="#000"/>
<rect x="778" y="222" width="17" height="4" fill="#fff"/>
<rect x="777" y="275" width="19" height="6" fill="#000"/>
<rect x="778" y="276" width="17" height="4" fill="#fff"/>
<rect x="779" y="218" width="6" height="67" fill="#000"/>
<rect x="751" y="228" width="34" height="45" fill="#000"/>
<path d="M784.5,228.5 H799.5 L801.5,230.5 V269.5 L799.5,271.5 H784.5" fill="none" stroke="#000" stroke-width="1"/>
<rect x="779" y="300" width="19" height="6" fill="#000"/>
<rect x="780" y="301" width="17" height="4" fill="#fff"/>
<rect x="779" y="354" width="19" height="6" fill="#000"/>
<rect x="780" y="355" width="17" height="4" fill="#fff"/>
<rect x="781" y="297" width="7" height="67" fill="#000"/>
<rect x="753" y="307" width="35" height="45" fill="#000"/>
<path d="M787.5,308.5 H803.5 L803.5,308.5 V350.5 L803.5,350.5 H787.5" fill="none" stroke="#000" stroke-width="1"/>
<rect x="689" y="215" width="19" height="7" fill="#000"/>
<rect x="695" y="216" width="1" height="5" fill="#fff"/>
<rect x="701" y="216" width="5" height="5" fill="#000"/>
<rect x="702" y="217" width="3" height="3" fill="#000"/>
<rect x="702" y="217" width="3" height="3" fill="#fff"/>
<rect x="703" y="218" width="1" height="1" fill="#000"/>
<rect x="556" y="181" width="7" height="13" fill="#000"/>
<rect x="557" y="182" width="4" height="5" fill="#fff"/>
<rect x="557" y="188" width="4" height="5" fill="#fff"/>
<rect x="556" y="197" width="7" height="58" fill="#000"/>
<rect x="557" y="199" width="5" height="7" fill="#000"/>
<rect x="558" y="200" width="3" height="5" fill="#fff"/>
<rect x="559" y="201" width="1" height="3" fill="#000"/>
<rect x="557" y="208" width="1" height="14" fill="#fff"/>
<rect x="557" y="221" width="5" height="1" fill="#fff"/>
<rect x="558" y="226" width="3" height="4" fill="#fff"/>
<rect x="557" y="236" width="5" height="1" fill="#fff"/>
<rect x="558" y="241" width="3" height="4" fill="#fff"/>
<rect x="557" y="249" width="5" height="1" fill="#fff"/>
<path d="M657.5,234.5 L660,232.5 L664,232.5 L667,234.5 L673,234.5 L676,232.5 L679,232.5 L682,234.5 L688,234.5 L691,232.5 L694,232.5 L697.5,235 V257 L694,259.5 L690,259.5 L688,257.5 L682,257.5 L679,259.5 L676,259.5 L673,257.5 L667,257.5 L664,259.5 L660,259.5 L657.5,257 Z" fill="none" stroke="#000" stroke-width="1.1"/>
<rect x="713" y="374" width="26" height="6" fill="#000"/>
<rect x="714" y="375" width="1" height="4" fill="#fff"/>
<rect x="719" y="375" width="2" height="4" fill="#fff"/>
<rect x="725" y="375" width="2" height="4" fill="#fff"/>
<rect x="731" y="375" width="1" height="4" fill="#fff"/>
<rect x="737" y="375" width="1" height="4" fill="#fff"/>
<rect x="752" y="376" width="35" height="41" fill="#000"/>
<rect x="753" y="377" width="33" height="39" fill="#fff"/>
<rect x="785" y="376" width="7" height="41" fill="#000"/>
<rect x="752" y="431" width="35" height="40" fill="#000"/>
<rect x="753" y="432" width="33" height="38" fill="#fff"/>
<rect x="785" y="431" width="7" height="40" fill="#000"/>
<rect x="725" y="432" width="14" height="7" fill="#000"/>
<rect x="726" y="433" width="1" height="5" fill="#fff"/>
<rect x="731" y="433" width="1" height="5" fill="#fff"/>
<rect x="737" y="433" width="1" height="5" fill="#fff"/>
<rect x="495" y="396" width="88" height="42" fill="#000"/>
<rect x="497" y="398" width="4" height="1" fill="#fff"/>
<rect x="497" y="435" width="4" height="1" fill="#fff"/>
<rect x="503" y="398" width="4" height="1" fill="#fff"/>
<rect x="503" y="435" width="4" height="1" fill="#fff"/>
<rect x="509" y="398" width="4" height="1" fill="#fff"/>
<rect x="509" y="435" width="4" height="1" fill="#fff"/>
<rect x="515" y="398" width="4" height="1" fill="#fff"/>
<rect x="515" y="435" width="4" height="1" fill="#fff"/>
<rect x="521" y="398" width="4" height="1" fill="#fff"/>
<rect x="521" y="435" width="4" height="1" fill="#fff"/>
<rect x="527" y="398" width="4" height="1" fill="#fff"/>
<rect x="527" y="435" width="4" height="1" fill="#fff"/>
<rect x="533" y="398" width="4" height="1" fill="#fff"/>
<rect x="533" y="435" width="4" height="1" fill="#fff"/>
<rect x="539" y="398" width="4" height="1" fill="#fff"/>
<rect x="539" y="435" width="4" height="1" fill="#fff"/>
<rect x="545" y="398" width="4" height="1" fill="#fff"/>
<rect x="545" y="435" width="4" height="1" fill="#fff"/>
<rect x="551" y="398" width="4" height="1" fill="#fff"/>
<rect x="551" y="435" width="4" height="1" fill="#fff"/>
<rect x="557" y="398" width="4" height="1" fill="#fff"/>
<rect x="557" y="435" width="4" height="1" fill="#fff"/>
<rect x="563" y="398" width="4" height="1" fill="#fff"/>
<rect x="563" y="435" width="4" height="1" fill="#fff"/>
<rect x="569" y="398" width="4" height="1" fill="#fff"/>
<rect x="569" y="435" width="4" height="1" fill="#fff"/>
<rect x="575" y="398" width="4" height="1" fill="#fff"/>
<rect x="575" y="435" width="4" height="1" fill="#fff"/>
<rect x="581" y="398" width="4" height="1" fill="#fff"/>
<rect x="581" y="435" width="4" height="1" fill="#fff"/>
<rect x="579" y="411" width="4" height="13" fill="#fff"/>
<rect x="519" y="410" width="41" height="14" fill="#fff"/>
<g transform="translate(524,421.5) scale(0.76,1)"><text x="0" y="0" font-family='"Liberation Sans", sans-serif' font-size="14.2" fill="#000" textLength="39.4737" lengthAdjust="spacing">BIOS</text></g>
<rect x="594" y="396" width="126" height="42" fill="#000"/>
<rect x="597" y="398" width="4" height="1" fill="#fff"/>
<rect x="603" y="398" width="4" height="1" fill="#fff"/>
<rect x="609" y="398" width="4" height="1" fill="#fff"/>
<rect x="615" y="398" width="4" height="1" fill="#fff"/>
<rect x="621" y="398" width="4" height="1" fill="#fff"/>
<rect x="627" y="398" width="4" height="1" fill="#fff"/>
<rect x="633" y="398" width="4" height="1" fill="#fff"/>
<rect x="639" y="398" width="4" height="1" fill="#fff"/>
<rect x="645" y="398" width="4" height="1" fill="#fff"/>
<rect x="651" y="398" width="4" height="1" fill="#fff"/>
<rect x="657" y="398" width="4" height="1" fill="#fff"/>
<rect x="663" y="398" width="4" height="1" fill="#fff"/>
<rect x="669" y="398" width="4" height="1" fill="#fff"/>
<rect x="675" y="398" width="4" height="1" fill="#fff"/>
<rect x="681" y="398" width="4" height="1" fill="#fff"/>
<rect x="687" y="398" width="4" height="1" fill="#fff"/>
<rect x="693" y="398" width="4" height="1" fill="#fff"/>
<rect x="699" y="398" width="4" height="1" fill="#fff"/>
<rect x="705" y="398" width="4" height="1" fill="#fff"/>
<rect x="711" y="398" width="4" height="1" fill="#fff"/>
<rect x="717" y="398" width="4" height="1" fill="#fff"/>
<rect x="643" y="411" width="28" height="14" fill="#fff"/>
<g transform="translate(645.5,422.5) scale(0.76,1)"><text x="0" y="0" font-family='"Liberation Sans", sans-serif' font-size="14.2" fill="#000" textLength="28.9474" lengthAdjust="spacing">KBD</text></g>
<rect x="598" y="442" width="20" height="7" fill="#000"/>
<rect x="599" y="443" width="1" height="5" fill="#fff"/>
<rect x="601" y="444" width="3" height="3" fill="#fff"/>
<rect x="605" y="443" width="1" height="5" fill="#fff"/>
<rect x="610" y="443" width="2" height="5" fill="#fff"/>
<rect x="616" y="443" width="1" height="5" fill="#fff"/>
<rect x="549" y="451" width="113" height="25" fill="#000"/>
<rect x="550" y="452" width="111" height="23" fill="#fff"/>
<rect x="551" y="454" width="7" height="3" fill="#000"/>
<rect x="553" y="454" width="4" height="6" fill="#000"/>
<rect x="552" y="453" width="2" height="1" fill="#000"/>
<rect x="555" y="453" width="2" height="1" fill="#000"/>
<rect x="551" y="461" width="7" height="3" fill="#000"/>
<rect x="552.5" y="461.8" width="1.2" height="1.2" fill="#fff"/>
<rect x="554" y="461.8" width="1.2" height="1.2" fill="#fff"/>
<rect x="555.5" y="461.8" width="1.2" height="1.2" fill="#fff"/>
<rect x="560" y="454" width="7" height="3" fill="#000"/>
<rect x="562" y="454" width="4" height="6" fill="#000"/>
<rect x="561" y="453" width="2" height="1" fill="#000"/>
<rect x="564" y="453" width="2" height="1" fill="#000"/>
<rect x="560" y="461" width="7" height="3" fill="#000"/>
<rect x="561.5" y="461.8" width="1.2" height="1.2" fill="#fff"/>
<rect x="563" y="461.8" width="1.2" height="1.2" fill="#fff"/>
<rect x="564.5" y="461.8" width="1.2" height="1.2" fill="#fff"/>
<rect x="569" y="454" width="7" height="3" fill="#000"/>
<rect x="571" y="454" width="4" height="6" fill="#000"/>
<rect x="570" y="453" width="2" height="1" fill="#000"/>
<rect x="573" y="453" width="2" height="1" fill="#000"/>
<rect x="569" y="461" width="7" height="3" fill="#000"/>
<rect x="570.5" y="461.8" width="1.2" height="1.2" fill="#fff"/>
<rect x="572" y="461.8" width="1.2" height="1.2" fill="#fff"/>
<rect x="573.5" y="461.8" width="1.2" height="1.2" fill="#fff"/>
<rect x="578" y="454" width="7" height="3" fill="#000"/>
<rect x="580" y="454" width="4" height="6" fill="#000"/>
<rect x="579" y="453" width="2" height="1" fill="#000"/>
<rect x="582" y="453" width="2" height="1" fill="#000"/>
<rect x="578" y="461" width="7" height="3" fill="#000"/>
<rect x="579.5" y="461.8" width="1.2" height="1.2" fill="#fff"/>
<rect x="581" y="461.8" width="1.2" height="1.2" fill="#fff"/>
<rect x="582.5" y="461.8" width="1.2" height="1.2" fill="#fff"/>
<rect x="587" y="454" width="7" height="3" fill="#000"/>
<rect x="589" y="454" width="4" height="6" fill="#000"/>
<rect x="588" y="453" width="2" height="1" fill="#000"/>
<rect x="591" y="453" width="2" height="1" fill="#000"/>
<rect x="587" y="461" width="7" height="3" fill="#000"/>
<rect x="588.5" y="461.8" width="1.2" height="1.2" fill="#fff"/>
<rect x="590" y="461.8" width="1.2" height="1.2" fill="#fff"/>
<rect x="591.5" y="461.8" width="1.2" height="1.2" fill="#fff"/>
<rect x="596" y="454" width="7" height="3" fill="#000"/>
<rect x="598" y="454" width="4" height="6" fill="#000"/>
<rect x="597" y="453" width="2" height="1" fill="#000"/>
<rect x="600" y="453" width="2" height="1" fill="#000"/>
<rect x="596" y="461" width="7" height="3" fill="#000"/>
<rect x="597.5" y="461.8" width="1.2" height="1.2" fill="#fff"/>
<rect x="599" y="461.8" width="1.2" height="1.2" fill="#fff"/>
<rect x="600.5" y="461.8" width="1.2" height="1.2" fill="#fff"/>
<rect x="606" y="454" width="7" height="3" fill="#000"/>
<rect x="608" y="454" width="4" height="6" fill="#000"/>
<rect x="607" y="453" width="2" height="1" fill="#000"/>
<rect x="610" y="453" width="2" height="1" fill="#000"/>
<rect x="606" y="461" width="7" height="3" fill="#000"/>
<rect x="607.5" y="461.8" width="1.2" height="1.2" fill="#fff"/>
<rect x="609" y="461.8" width="1.2" height="1.2" fill="#fff"/>
<rect x="610.5" y="461.8" width="1.2" height="1.2" fill="#fff"/>
<rect x="615" y="454" width="7" height="3" fill="#000"/>
<rect x="617" y="454" width="4" height="6" fill="#000"/>
<rect x="616" y="453" width="2" height="1" fill="#000"/>
<rect x="619" y="453" width="2" height="1" fill="#000"/>
<rect x="615" y="461" width="7" height="3" fill="#000"/>
<rect x="616.5" y="461.8" width="1.2" height="1.2" fill="#fff"/>
<rect x="618" y="461.8" width="1.2" height="1.2" fill="#fff"/>
<rect x="619.5" y="461.8" width="1.2" height="1.2" fill="#fff"/>
<rect x="624" y="454" width="7" height="3" fill="#000"/>
<rect x="626" y="454" width="4" height="6" fill="#000"/>
<rect x="625" y="453" width="2" height="1" fill="#000"/>
<rect x="628" y="453" width="2" height="1" fill="#000"/>
<rect x="624" y="461" width="7" height="3" fill="#000"/>
<rect x="625.5" y="461.8" width="1.2" height="1.2" fill="#fff"/>
<rect x="627" y="461.8" width="1.2" height="1.2" fill="#fff"/>
<rect x="628.5" y="461.8" width="1.2" height="1.2" fill="#fff"/>
<rect x="633" y="454" width="7" height="3" fill="#000"/>
<rect x="635" y="454" width="4" height="6" fill="#000"/>
<rect x="634" y="453" width="2" height="1" fill="#000"/>
<rect x="637" y="453" width="2" height="1" fill="#000"/>
<rect x="633" y="461" width="7" height="3" fill="#000"/>
<rect x="634.5" y="461.8" width="1.2" height="1.2" fill="#fff"/>
<rect x="636" y="461.8" width="1.2" height="1.2" fill="#fff"/>
<rect x="637.5" y="461.8" width="1.2" height="1.2" fill="#fff"/>
<rect x="642" y="454" width="7" height="3" fill="#000"/>
<rect x="644" y="454" width="4" height="6" fill="#000"/>
<rect x="643" y="453" width="2" height="1" fill="#000"/>
<rect x="646" y="453" width="2" height="1" fill="#000"/>
<rect x="642" y="461" width="7" height="3" fill="#000"/>
<rect x="643.5" y="461.8" width="1.2" height="1.2" fill="#fff"/>
<rect x="645" y="461.8" width="1.2" height="1.2" fill="#fff"/>
<rect x="646.5" y="461.8" width="1.2" height="1.2" fill="#fff"/>
<rect x="651" y="454" width="7" height="3" fill="#000"/>
<rect x="653" y="454" width="4" height="6" fill="#000"/>
<rect x="652" y="453" width="2" height="1" fill="#000"/>
<rect x="655" y="453" width="2" height="1" fill="#000"/>
<rect x="651" y="461" width="7" height="3" fill="#000"/>
<rect x="652.5" y="461.8" width="1.2" height="1.2" fill="#fff"/>
<rect x="654" y="461.8" width="1.2" height="1.2" fill="#fff"/>
<rect x="655.5" y="461.8" width="1.2" height="1.2" fill="#fff"/>
<rect x="555" y="465" width="8" height="7" fill="#000"/>
<rect x="556" y="466" width="6" height="5" fill="#fff"/>
<rect x="564" y="465" width="8" height="7" fill="#000"/>
<rect x="565" y="466" width="6" height="5" fill="#fff"/>
<rect x="573" y="465" width="8" height="7" fill="#000"/>
<rect x="574" y="466" width="6" height="5" fill="#fff"/>
<rect x="582" y="465" width="8" height="7" fill="#000"/>
<rect x="583" y="466" width="6" height="5" fill="#fff"/>
<rect x="591" y="465" width="8" height="7" fill="#000"/>
<rect x="592" y="466" width="6" height="5" fill="#fff"/>
<rect x="600" y="465" width="8" height="7" fill="#000"/>
<rect x="601" y="466" width="6" height="5" fill="#fff"/>
<rect x="610" y="465" width="8" height="7" fill="#000"/>
<rect x="611" y="466" width="6" height="5" fill="#fff"/>
<rect x="619" y="465" width="8" height="7" fill="#000"/>
<rect x="620" y="466" width="6" height="5" fill="#fff"/>
<rect x="628" y="465" width="8" height="7" fill="#000"/>
<rect x="629" y="466" width="6" height="5" fill="#fff"/>
<rect x="637" y="465" width="8" height="7" fill="#000"/>
<rect x="638" y="466" width="6" height="5" fill="#fff"/>
<rect x="646" y="465" width="8" height="7" fill="#000"/>
<rect x="647" y="466" width="6" height="5" fill="#fff"/>
<rect x="550" y="459" width="111" height="1" fill="#000"/>
<rect x="420" y="341" width="14" height="119" fill="#000"/>
<rect x="421" y="342" width="1" height="117" fill="#fff"/>
<rect x="426" y="342" width="1" height="117" fill="#fff"/>
<rect x="421" y="347" width="12" height="1" fill="#fff"/>
<rect x="421" y="353" width="12" height="1" fill="#fff"/>
<rect x="421" y="358" width="12" height="1" fill="#fff"/>
<rect x="421" y="364" width="12" height="1" fill="#fff"/>
<rect x="421" y="370" width="12" height="1" fill="#fff"/>
<rect x="421" y="376" width="12" height="1" fill="#fff"/>
<rect x="421" y="382" width="12" height="1" fill="#fff"/>
<rect x="421" y="387" width="12" height="1" fill="#fff"/>
<rect x="421" y="393" width="12" height="1" fill="#fff"/>
<rect x="421" y="399" width="12" height="1" fill="#fff"/>
<rect x="421" y="404" width="12" height="1" fill="#fff"/>
<rect x="421" y="410" width="12" height="1" fill="#fff"/>
<rect x="421" y="416" width="12" height="1" fill="#fff"/>
<rect x="421" y="422" width="12" height="1" fill="#fff"/>
<rect x="421" y="428" width="12" height="1" fill="#fff"/>
<rect x="421" y="433" width="12" height="1" fill="#fff"/>
<rect x="421" y="439" width="12" height="1" fill="#fff"/>
<rect x="421" y="445" width="12" height="1" fill="#fff"/>
<rect x="421" y="450" width="12" height="1" fill="#fff"/>
<rect x="421" y="456" width="12" height="1" fill="#fff"/>
<rect x="421" y="462" width="12" height="1" fill="#fff"/>
<rect x="422" y="343" width="3" height="3" fill="#fff"/>
<rect x="442" y="341" width="14" height="101" fill="#000"/>
<rect x="454" y="342" width="1" height="99" fill="#fff"/>
<rect x="448" y="342" width="1" height="99" fill="#fff"/>
<rect x="443" y="347" width="11" height="1" fill="#fff"/>
<rect x="443" y="353" width="11" height="1" fill="#fff"/>
<rect x="443" y="358" width="11" height="1" fill="#fff"/>
<rect x="443" y="364" width="11" height="1" fill="#fff"/>
<rect x="443" y="370" width="11" height="1" fill="#fff"/>
<rect x="443" y="376" width="11" height="1" fill="#fff"/>
<rect x="443" y="382" width="11" height="1" fill="#fff"/>
<rect x="443" y="387" width="11" height="1" fill="#fff"/>
<rect x="443" y="393" width="11" height="1" fill="#fff"/>
<rect x="443" y="399" width="11" height="1" fill="#fff"/>
<rect x="443" y="404" width="11" height="1" fill="#fff"/>
<rect x="443" y="410" width="11" height="1" fill="#fff"/>
<rect x="443" y="416" width="11" height="1" fill="#fff"/>
<rect x="443" y="422" width="11" height="1" fill="#fff"/>
<rect x="443" y="428" width="11" height="1" fill="#fff"/>
<rect x="443" y="433" width="11" height="1" fill="#fff"/>
<rect x="443" y="439" width="11" height="1" fill="#fff"/>
<rect x="444" y="343" width="3" height="3" fill="#fff"/>
<rect x="350" y="467" width="26" height="6" fill="#000"/>
<rect x="351" y="468" width="1" height="4" fill="#fff"/>
<rect x="356" y="468" width="2" height="4" fill="#fff"/>
<rect x="362" y="468" width="2" height="4" fill="#fff"/>
<rect x="368" y="468" width="1" height="4" fill="#fff"/>
<rect x="373" y="468" width="1" height="4" fill="#fff"/>
<rect x="294" y="453" width="19" height="14" fill="#000"/>
<rect x="295" y="454" width="1" height="5" fill="#fff"/>
<rect x="296" y="454" width="4" height="5" fill="#fff"/>
<rect x="297" y="455" width="2" height="3" fill="#000"/>
<rect x="300" y="454" width="1" height="5" fill="#fff"/>
<rect x="306" y="454" width="1" height="5" fill="#fff"/>
<rect x="295" y="461" width="17" height="1" fill="#fff"/>
<rect x="295" y="461" width="1" height="5" fill="#fff"/>
<rect x="300" y="461" width="1" height="5" fill="#fff"/>
<rect x="306" y="461" width="1" height="5" fill="#fff"/>
<rect x="296" y="462" width="4" height="4" fill="#fff"/>
<rect x="297" y="463" width="2" height="2" fill="#000"/>
<rect x="283" y="419" width="22" height="14" fill="#000"/>
<rect x="285" y="422" width="5" height="1" fill="#fff"/>
<rect x="292" y="422" width="5" height="1" fill="#fff"/>
<rect x="298" y="422" width="5" height="1" fill="#fff"/>
<rect x="285" y="426" width="5" height="1" fill="#fff"/>
<rect x="292" y="426" width="5" height="1" fill="#fff"/>
<rect x="298" y="426" width="5" height="1" fill="#fff"/>
<rect x="285" y="430" width="5" height="1" fill="#fff"/>
<rect x="292" y="430" width="5" height="1" fill="#fff"/>
<rect x="298" y="430" width="5" height="1" fill="#fff"/>
<rect x="74" y="370" width="85" height="103" fill="#000"/>
<rect x="77.5" y="372" width="3.5" height="5" fill="#fff"/>
<rect x="83.37" y="372" width="3.5" height="5" fill="#fff"/>
<rect x="89.24" y="372" width="3.5" height="5" fill="#fff"/>
<rect x="95.11" y="372" width="3.5" height="5" fill="#fff"/>
<rect x="100.98" y="372" width="3.5" height="5" fill="#fff"/>
<rect x="106.85" y="372" width="3.5" height="5" fill="#fff"/>
<rect x="112.72" y="372" width="3.5" height="5" fill="#fff"/>
<rect x="118.59" y="372" width="3.5" height="5" fill="#fff"/>
<rect x="124.46" y="372" width="3.5" height="5" fill="#fff"/>
<rect x="130.33" y="372" width="3.5" height="5" fill="#fff"/>
<rect x="136.2" y="372" width="3.5" height="5" fill="#fff"/>
<rect x="142.07" y="372" width="3.5" height="5" fill="#fff"/>
<rect x="147.94" y="372" width="3.5" height="5" fill="#fff"/>
<rect x="153.81" y="372" width="3.5" height="5" fill="#fff"/>
<rect x="79" y="380" width="33" height="5" fill="#fff"/>
<rect x="117" y="380" width="39" height="5" fill="#fff"/>
<rect x="77.5" y="387" width="3.5" height="5" fill="#fff"/>
<rect x="83.37" y="387" width="3.5" height="5" fill="#fff"/>
<rect x="89.24" y="387" width="3.5" height="5" fill="#fff"/>
<rect x="95.11" y="387" width="3.5" height="5" fill="#fff"/>
<rect x="100.98" y="387" width="3.5" height="5" fill="#fff"/>
<rect x="106.85" y="387" width="3.5" height="5" fill="#fff"/>
<rect x="112.72" y="387" width="3.5" height="5" fill="#fff"/>
<rect x="118.59" y="387" width="3.5" height="5" fill="#fff"/>
<rect x="124.46" y="387" width="3.5" height="5" fill="#fff"/>
<rect x="130.33" y="387" width="3.5" height="5" fill="#fff"/>
<rect x="136.2" y="387" width="3.5" height="5" fill="#fff"/>
<rect x="142.07" y="387" width="3.5" height="5" fill="#fff"/>
<rect x="147.94" y="387" width="3.5" height="5" fill="#fff"/>
<rect x="153.81" y="387" width="3.5" height="5" fill="#fff"/>
<rect x="74" y="394" width="85" height="2" fill="#fff"/>
<rect x="77.5" y="398" width="3.5" height="5" fill="#fff"/>
<rect x="83.37" y="398" width="3.5" height="5" fill="#fff"/>
<rect x="89.24" y="398" width="3.5" height="5" fill="#fff"/>
<rect x="95.11" y="398" width="3.5" height="5" fill="#fff"/>
<rect x="100.98" y="398" width="3.5" height="5" fill="#fff"/>
<rect x="106.85" y="398" width="3.5" height="5" fill="#fff"/>
<rect x="112.72" y="398" width="3.5" height="5" fill="#fff"/>
<rect x="118.59" y="398" width="3.5" height="5" fill="#fff"/>
<rect x="124.46" y="398" width="3.5" height="5" fill="#fff"/>
<rect x="130.33" y="398" width="3.5" height="5" fill="#fff"/>
<rect x="136.2" y="398" width="3.5" height="5" fill="#fff"/>
<rect x="142.07" y="398" width="3.5" height="5" fill="#fff"/>
<rect x="147.94" y="398" width="3.5" height="5" fill="#fff"/>
<rect x="153.81" y="398" width="3.5" height="5" fill="#fff"/>
<rect x="79" y="406" width="33" height="5" fill="#fff"/>
<rect x="117" y="406" width="39" height="5" fill="#fff"/>
<rect x="77.5" y="413" width="3.5" height="5" fill="#fff"/>
<rect x="83.37" y="413" width="3.5" height="5" fill="#fff"/>
<rect x="89.24" y="413" width="3.5" height="5" fill="#fff"/>
<rect x="95.11" y="413" width="3.5" height="5" fill="#fff"/>
<rect x="100.98" y="413" width="3.5" height="5" fill="#fff"/>
<rect x="106.85" y="413" width="3.5" height="5" fill="#fff"/>
<rect x="112.72" y="413" width="3.5" height="5" fill="#fff"/>
<rect x="118.59" y="413" width="3.5" height="5" fill="#fff"/>
<rect x="124.46" y="413" width="3.5" height="5" fill="#fff"/>
<rect x="130.33" y="413" width="3.5" height="5" fill="#fff"/>
<rect x="136.2" y="413" width="3.5" height="5" fill="#fff"/>
<rect x="142.07" y="413" width="3.5" height="5" fill="#fff"/>
<rect x="147.94" y="413" width="3.5" height="5" fill="#fff"/>
<rect x="153.81" y="413" width="3.5" height="5" fill="#fff"/>
<rect x="77.5" y="424" width="3.5" height="5" fill="#fff"/>
<rect x="83.37" y="424" width="3.5" height="5" fill="#fff"/>
<rect x="89.24" y="424" width="3.5" height="5" fill="#fff"/>
<rect x="95.11" y="424" width="3.5" height="5" fill="#fff"/>
<rect x="100.98" y="424" width="3.5" height="5" fill="#fff"/>
<rect x="106.85" y="424" width="3.5" height="5" fill="#fff"/>
<rect x="112.72" y="424" width="3.5" height="5" fill="#fff"/>
<rect x="118.59" y="424" width="3.5" height="5" fill="#fff"/>
<rect x="124.46" y="424" width="3.5" height="5" fill="#fff"/>
<rect x="130.33" y="424" width="3.5" height="5" fill="#fff"/>
<rect x="136.2" y="424" width="3.5" height="5" fill="#fff"/>
<rect x="142.07" y="424" width="3.5" height="5" fill="#fff"/>
<rect x="147.94" y="424" width="3.5" height="5" fill="#fff"/>
<rect x="153.81" y="424" width="3.5" height="5" fill="#fff"/>
<rect x="79" y="432" width="33" height="5" fill="#fff"/>
<rect x="117" y="432" width="39" height="5" fill="#fff"/>
<rect x="77.5" y="439" width="3.5" height="5" fill="#fff"/>
<rect x="83.37" y="439" width="3.5" height="5" fill="#fff"/>
<rect x="89.24" y="439" width="3.5" height="5" fill="#fff"/>
<rect x="95.11" y="439" width="3.5" height="5" fill="#fff"/>
<rect x="100.98" y="439" width="3.5" height="5" fill="#fff"/>
<rect x="106.85" y="439" width="3.5" height="5" fill="#fff"/>
<rect x="112.72" y="439" width="3.5" height="5" fill="#fff"/>
<rect x="118.59" y="439" width="3.5" height="5" fill="#fff"/>
<rect x="124.46" y="439" width="3.5" height="5" fill="#fff"/>
<rect x="130.33" y="439" width="3.5" height="5" fill="#fff"/>
<rect x="136.2" y="439" width="3.5" height="5" fill="#fff"/>
<rect x="142.07" y="439" width="3.5" height="5" fill="#fff"/>
<rect x="147.94" y="439" width="3.5" height="5" fill="#fff"/>
<rect x="153.81" y="439" width="3.5" height="5" fill="#fff"/>
<rect x="74" y="446" width="85" height="2" fill="#fff"/>
<rect x="77.5" y="450" width="3.5" height="5" fill="#fff"/>
<rect x="83.37" y="450" width="3.5" height="5" fill="#fff"/>
<rect x="89.24" y="450" width="3.5" height="5" fill="#fff"/>
<rect x="95.11" y="450" width="3.5" height="5" fill="#fff"/>
<rect x="100.98" y="450" width="3.5" height="5" fill="#fff"/>
<rect x="106.85" y="450" width="3.5" height="5" fill="#fff"/>
<rect x="112.72" y="450" width="3.5" height="5" fill="#fff"/>
<rect x="118.59" y="450" width="3.5" height="5" fill="#fff"/>
<rect x="124.46" y="450" width="3.5" height="5" fill="#fff"/>
<rect x="130.33" y="450" width="3.5" height="5" fill="#fff"/>
<rect x="136.2" y="450" width="3.5" height="5" fill="#fff"/>
<rect x="142.07" y="450" width="3.5" height="5" fill="#fff"/>
<rect x="147.94" y="450" width="3.5" height="5" fill="#fff"/>
<rect x="153.81" y="450" width="3.5" height="5" fill="#fff"/>
<rect x="79" y="458" width="33" height="5" fill="#fff"/>
<rect x="117" y="458" width="39" height="5" fill="#fff"/>
<rect x="77.5" y="465" width="3.5" height="5" fill="#fff"/>
<rect x="83.37" y="465" width="3.5" height="5" fill="#fff"/>
<rect x="89.24" y="465" width="3.5" height="5" fill="#fff"/>
<rect x="95.11" y="465" width="3.5" height="5" fill="#fff"/>
<rect x="100.98" y="465" width="3.5" height="5" fill="#fff"/>
<rect x="106.85" y="465" width="3.5" height="5" fill="#fff"/>
<rect x="112.72" y="465" width="3.5" height="5" fill="#fff"/>
<rect x="118.59" y="465" width="3.5" height="5" fill="#fff"/>
<rect x="124.46" y="465" width="3.5" height="5" fill="#fff"/>
<rect x="130.33" y="465" width="3.5" height="5" fill="#fff"/>
<rect x="136.2" y="465" width="3.5" height="5" fill="#fff"/>
<rect x="142.07" y="465" width="3.5" height="5" fill="#fff"/>
<rect x="147.94" y="465" width="3.5" height="5" fill="#fff"/>
<rect x="153.81" y="465" width="3.5" height="5" fill="#fff"/>
<rect x="74" y="421" width="14" height="1" fill="#fff"/>
<rect x="145" y="421" width="14" height="1" fill="#fff"/>
<circle cx="158.5" cy="382.5" r="1.6" fill="#fff"/>
<circle cx="158.5" cy="408.5" r="1.6" fill="#fff"/>
<circle cx="158.5" cy="434.5" r="1.6" fill="#fff"/>
<circle cx="158.5" cy="460.5" r="1.6" fill="#fff"/>
<rect x="164" y="370" width="84" height="103" fill="#000"/>
<rect x="167.5" y="372" width="3.5" height="5" fill="#fff"/>
<rect x="173.37" y="372" width="3.5" height="5" fill="#fff"/>
<rect x="179.24" y="372" width="3.5" height="5" fill="#fff"/>
<rect x="185.11" y="372" width="3.5" height="5" fill="#fff"/>
<rect x="190.98" y="372" width="3.5" height="5" fill="#fff"/>
<rect x="196.85" y="372" width="3.5" height="5" fill="#fff"/>
<rect x="202.72" y="372" width="3.5" height="5" fill="#fff"/>
<rect x="208.59" y="372" width="3.5" height="5" fill="#fff"/>
<rect x="214.46" y="372" width="3.5" height="5" fill="#fff"/>
<rect x="220.33" y="372" width="3.5" height="5" fill="#fff"/>
<rect x="226.2" y="372" width="3.5" height="5" fill="#fff"/>
<rect x="232.07" y="372" width="3.5" height="5" fill="#fff"/>
<rect x="237.94" y="372" width="3.5" height="5" fill="#fff"/>
<rect x="243.81" y="372" width="3.5" height="5" fill="#fff"/>
<rect x="169" y="380" width="34" height="5" fill="#fff"/>
<rect x="207" y="380" width="35" height="5" fill="#fff"/>
<rect x="167.5" y="387" width="3.5" height="5" fill="#fff"/>
<rect x="173.37" y="387" width="3.5" height="5" fill="#fff"/>
<rect x="179.24" y="387" width="3.5" height="5" fill="#fff"/>
<rect x="185.11" y="387" width="3.5" height="5" fill="#fff"/>
<rect x="190.98" y="387" width="3.5" height="5" fill="#fff"/>
<rect x="196.85" y="387" width="3.5" height="5" fill="#fff"/>
<rect x="202.72" y="387" width="3.5" height="5" fill="#fff"/>
<rect x="208.59" y="387" width="3.5" height="5" fill="#fff"/>
<rect x="214.46" y="387" width="3.5" height="5" fill="#fff"/>
<rect x="220.33" y="387" width="3.5" height="5" fill="#fff"/>
<rect x="226.2" y="387" width="3.5" height="5" fill="#fff"/>
<rect x="232.07" y="387" width="3.5" height="5" fill="#fff"/>
<rect x="237.94" y="387" width="3.5" height="5" fill="#fff"/>
<rect x="243.81" y="387" width="3.5" height="5" fill="#fff"/>
<rect x="164" y="394" width="84" height="2" fill="#fff"/>
<rect x="167.5" y="398" width="3.5" height="5" fill="#fff"/>
<rect x="173.37" y="398" width="3.5" height="5" fill="#fff"/>
<rect x="179.24" y="398" width="3.5" height="5" fill="#fff"/>
<rect x="185.11" y="398" width="3.5" height="5" fill="#fff"/>
<rect x="190.98" y="398" width="3.5" height="5" fill="#fff"/>
<rect x="196.85" y="398" width="3.5" height="5" fill="#fff"/>
<rect x="202.72" y="398" width="3.5" height="5" fill="#fff"/>
<rect x="208.59" y="398" width="3.5" height="5" fill="#fff"/>
<rect x="214.46" y="398" width="3.5" height="5" fill="#fff"/>
<rect x="220.33" y="398" width="3.5" height="5" fill="#fff"/>
<rect x="226.2" y="398" width="3.5" height="5" fill="#fff"/>
<rect x="232.07" y="398" width="3.5" height="5" fill="#fff"/>
<rect x="237.94" y="398" width="3.5" height="5" fill="#fff"/>
<rect x="243.81" y="398" width="3.5" height="5" fill="#fff"/>
<rect x="169" y="406" width="34" height="5" fill="#fff"/>
<rect x="207" y="406" width="35" height="5" fill="#fff"/>
<rect x="167.5" y="413" width="3.5" height="5" fill="#fff"/>
<rect x="173.37" y="413" width="3.5" height="5" fill="#fff"/>
<rect x="179.24" y="413" width="3.5" height="5" fill="#fff"/>
<rect x="185.11" y="413" width="3.5" height="5" fill="#fff"/>
<rect x="190.98" y="413" width="3.5" height="5" fill="#fff"/>
<rect x="196.85" y="413" width="3.5" height="5" fill="#fff"/>
<rect x="202.72" y="413" width="3.5" height="5" fill="#fff"/>
<rect x="208.59" y="413" width="3.5" height="5" fill="#fff"/>
<rect x="214.46" y="413" width="3.5" height="5" fill="#fff"/>
<rect x="220.33" y="413" width="3.5" height="5" fill="#fff"/>
<rect x="226.2" y="413" width="3.5" height="5" fill="#fff"/>
<rect x="232.07" y="413" width="3.5" height="5" fill="#fff"/>
<rect x="237.94" y="413" width="3.5" height="5" fill="#fff"/>
<rect x="243.81" y="413" width="3.5" height="5" fill="#fff"/>
<rect x="167.5" y="424" width="3.5" height="5" fill="#fff"/>
<rect x="173.37" y="424" width="3.5" height="5" fill="#fff"/>
<rect x="179.24" y="424" width="3.5" height="5" fill="#fff"/>
<rect x="185.11" y="424" width="3.5" height="5" fill="#fff"/>
<rect x="190.98" y="424" width="3.5" height="5" fill="#fff"/>
<rect x="196.85" y="424" width="3.5" height="5" fill="#fff"/>
<rect x="202.72" y="424" width="3.5" height="5" fill="#fff"/>
<rect x="208.59" y="424" width="3.5" height="5" fill="#fff"/>
<rect x="214.46" y="424" width="3.5" height="5" fill="#fff"/>
<rect x="220.33" y="424" width="3.5" height="5" fill="#fff"/>
<rect x="226.2" y="424" width="3.5" height="5" fill="#fff"/>
<rect x="232.07" y="424" width="3.5" height="5" fill="#fff"/>
<rect x="237.94" y="424" width="3.5" height="5" fill="#fff"/>
<rect x="243.81" y="424" width="3.5" height="5" fill="#fff"/>
<rect x="169" y="432" width="34" height="5" fill="#fff"/>
<rect x="207" y="432" width="35" height="5" fill="#fff"/>
<rect x="167.5" y="439" width="3.5" height="5" fill="#fff"/>
<rect x="173.37" y="439" width="3.5" height="5" fill="#fff"/>
<rect x="179.24" y="439" width="3.5" height="5" fill="#fff"/>
<rect x="185.11" y="439" width="3.5" height="5" fill="#fff"/>
<rect x="190.98" y="439" width="3.5" height="5" fill="#fff"/>
<rect x="196.85" y="439" width="3.5" height="5" fill="#fff"/>
<rect x="202.72" y="439" width="3.5" height="5" fill="#fff"/>
<rect x="208.59" y="439" width="3.5" height="5" fill="#fff"/>
<rect x="214.46" y="439" width="3.5" height="5" fill="#fff"/>
<rect x="220.33" y="439" width="3.5" height="5" fill="#fff"/>
<rect x="226.2" y="439" width="3.5" height="5" fill="#fff"/>
<rect x="232.07" y="439" width="3.5" height="5" fill="#fff"/>
<rect x="237.94" y="439" width="3.5" height="5" fill="#fff"/>
<rect x="243.81" y="439" width="3.5" height="5" fill="#fff"/>
<rect x="164" y="446" width="84" height="2" fill="#fff"/>
<rect x="167.5" y="450" width="3.5" height="5" fill="#fff"/>
<rect x="173.37" y="450" width="3.5" height="5" fill="#fff"/>
<rect x="179.24" y="450" width="3.5" height="5" fill="#fff"/>
<rect x="185.11" y="450" width="3.5" height="5" fill="#fff"/>
<rect x="190.98" y="450" width="3.5" height="5" fill="#fff"/>
<rect x="196.85" y="450" width="3.5" height="5" fill="#fff"/>
<rect x="202.72" y="450" width="3.5" height="5" fill="#fff"/>
<rect x="208.59" y="450" width="3.5" height="5" fill="#fff"/>
<rect x="214.46" y="450" width="3.5" height="5" fill="#fff"/>
<rect x="220.33" y="450" width="3.5" height="5" fill="#fff"/>
<rect x="226.2" y="450" width="3.5" height="5" fill="#fff"/>
<rect x="232.07" y="450" width="3.5" height="5" fill="#fff"/>
<rect x="237.94" y="450" width="3.5" height="5" fill="#fff"/>
<rect x="243.81" y="450" width="3.5" height="5" fill="#fff"/>
<rect x="169" y="458" width="34" height="5" fill="#fff"/>
<rect x="207" y="458" width="35" height="5" fill="#fff"/>
<rect x="167.5" y="465" width="3.5" height="5" fill="#fff"/>
<rect x="173.37" y="465" width="3.5" height="5" fill="#fff"/>
<rect x="179.24" y="465" width="3.5" height="5" fill="#fff"/>
<rect x="185.11" y="465" width="3.5" height="5" fill="#fff"/>
<rect x="190.98" y="465" width="3.5" height="5" fill="#fff"/>
<rect x="196.85" y="465" width="3.5" height="5" fill="#fff"/>
<rect x="202.72" y="465" width="3.5" height="5" fill="#fff"/>
<rect x="208.59" y="465" width="3.5" height="5" fill="#fff"/>
<rect x="214.46" y="465" width="3.5" height="5" fill="#fff"/>
<rect x="220.33" y="465" width="3.5" height="5" fill="#fff"/>
<rect x="226.2" y="465" width="3.5" height="5" fill="#fff"/>
<rect x="232.07" y="465" width="3.5" height="5" fill="#fff"/>
<rect x="237.94" y="465" width="3.5" height="5" fill="#fff"/>
<rect x="243.81" y="465" width="3.5" height="5" fill="#fff"/>
<rect x="164" y="421" width="14" height="1" fill="#fff"/>
<rect x="234" y="421" width="14" height="1" fill="#fff"/>
<circle cx="247.5" cy="382.5" r="1.6" fill="#fff"/>
<circle cx="247.5" cy="408.5" r="1.6" fill="#fff"/>
<circle cx="247.5" cy="434.5" r="1.6" fill="#fff"/>
<circle cx="247.5" cy="460.5" r="1.6" fill="#fff"/>
<rect x="92" y="341" width="65" height="25" fill="#000"/>
<rect x="94.8" y="343" width="3.6" height="5" fill="#fff"/>
<rect x="94.8" y="359" width="3.6" height="5" fill="#fff"/>
<rect x="100.5" y="343" width="3.6" height="5" fill="#fff"/>
<rect x="100.5" y="359" width="3.6" height="5" fill="#fff"/>
<rect x="106.2" y="343" width="3.6" height="5" fill="#fff"/>
<rect x="106.2" y="359" width="3.6" height="5" fill="#fff"/>
<rect x="111.9" y="343" width="3.6" height="5" fill="#fff"/>
<rect x="111.9" y="359" width="3.6" height="5" fill="#fff"/>
<rect x="117.6" y="343" width="3.6" height="5" fill="#fff"/>
<rect x="117.6" y="359" width="3.6" height="5" fill="#fff"/>
<rect x="123.3" y="343" width="3.6" height="5" fill="#fff"/>
<rect x="123.3" y="359" width="3.6" height="5" fill="#fff"/>
<rect x="129" y="343" width="3.6" height="5" fill="#fff"/>
<rect x="129" y="359" width="3.6" height="5" fill="#fff"/>
<rect x="134.7" y="343" width="3.6" height="5" fill="#fff"/>
<rect x="134.7" y="359" width="3.6" height="5" fill="#fff"/>
<rect x="140.4" y="343" width="3.6" height="5" fill="#fff"/>
<rect x="140.4" y="359" width="3.6" height="5" fill="#fff"/>
<rect x="146.1" y="343" width="3.6" height="5" fill="#fff"/>
<rect x="146.1" y="359" width="3.6" height="5" fill="#fff"/>
<rect x="151.8" y="343" width="3.6" height="5" fill="#fff"/>
<rect x="151.8" y="359" width="3.6" height="5" fill="#fff"/>
<rect x="96" y="351" width="59" height="5" fill="#fff"/>
<circle cx="157" cy="353.5" r="2" fill="#fff"/>
<ellipse cx="54" cy="367.2" rx="14" ry="14.5" fill="#000"/><circle cx="54" cy="367.6" r="3.1" fill="#fff"/>
<rect x="165" y="317" width="13" height="14" fill="#000"/>
<rect x="166" y="318" width="1" height="5" fill="#fff"/>
<rect x="171" y="318" width="1" height="5" fill="#fff"/>
<rect x="166" y="325" width="1" height="5" fill="#fff"/>
<rect x="171" y="325" width="1" height="5" fill="#fff"/>
<rect x="157" y="12" width="58" height="19" rx="2.5" fill="#000"/>
<rect x="159" y="14" width="53" height="14" rx="1.5" fill="#fff"/>
<g transform="translate(161.75,26.2848) scale(0.76,1)"><text x="0" y="0" font-family='"Liberation Sans", sans-serif' font-size="14.2" fill="#000" textLength="61.1842" lengthAdjust="spacing">BANK 3</text></g>
<rect x="157" y="39" width="58" height="19" rx="2.5" fill="#000"/>
<rect x="159" y="41" width="53" height="14" rx="1.5" fill="#fff"/>
<g transform="translate(161.75,53.2848) scale(0.76,1)"><text x="0" y="0" font-family='"Liberation Sans", sans-serif' font-size="14.2" fill="#000" textLength="61.1842" lengthAdjust="spacing">BANK 2</text></g>
<rect x="157" y="66" width="58" height="19" rx="2.5" fill="#000"/>
<rect x="159" y="68" width="53" height="14" rx="1.5" fill="#fff"/>
<g transform="translate(162.85,80.2848) scale(0.76,1)"><text x="0" y="0" font-family='"Liberation Sans", sans-serif' font-size="14.2" fill="#000" textLength="58.2895" lengthAdjust="spacing">BANK 1</text></g>
<rect x="157" y="94" width="58" height="19" rx="2.5" fill="#000"/>
<rect x="159" y="96" width="53" height="14" rx="1.5" fill="#fff"/>
<g transform="translate(161.75,108.285) scale(0.76,1)"><text x="0" y="0" font-family='"Liberation Sans", sans-serif' font-size="14.2" fill="#000" textLength="61.1842" lengthAdjust="spacing">BANK 0</text></g>
<rect x="9" y="32" width="34" height="19" rx="2.5" fill="#000"/>
<polygon points="30.268,49.5804 22.7536,59.3161 20.0536,68.3161 17.9464,67.6839 20.6464,58.6839 19.732,46.4196" fill="#000"/>
<rect x="11" y="34" width="29" height="14" rx="1.5" fill="#fff"/>
<polygon points="28.1608,46.8602 22.5142,56.6342 22.3226,56.5767 22.9886,45.3085" fill="#fff"/>
<g transform="translate(14.8,46.2848) scale(0.76,1)"><text x="0" y="0" font-family='"Liberation Sans", sans-serif' font-size="14.2" fill="#000" textLength="26.8421" lengthAdjust="spacing">J15</text></g>
<rect x="39" y="109" width="36" height="19" rx="2.5" fill="#000"/>
<polygon points="41,123.5 31.65,119.1 24,119.1 24,116.9 31.65,116.9 41,112.5" fill="#000"/>
<rect x="41" y="111" width="31" height="14" rx="1.5" fill="#fff"/>
<polygon points="43,120.7 34.15,118.1 34.15,117.9 43,115.3" fill="#fff"/>
<g transform="translate(45.8,123.285) scale(0.76,1)"><text x="0" y="0" font-family='"Liberation Sans", sans-serif' font-size="14.2" fill="#000" textLength="26.8421" lengthAdjust="spacing">J16</text></g>
<rect x="40" y="138" width="36" height="19" rx="2.5" fill="#000"/>
<polygon points="42,151.5 32.1,147.1 24,147.1 24,144.9 32.1,144.9 42,140.5" fill="#000"/>
<rect x="42" y="140" width="31" height="14" rx="1.5" fill="#fff"/>
<polygon points="44,148.7 34.6,146.1 34.6,145.9 44,143.3" fill="#fff"/>
<g transform="translate(46.8,152.285) scale(0.76,1)"><text x="0" y="0" font-family='"Liberation Sans", sans-serif' font-size="14.2" fill="#000" textLength="26.8421" lengthAdjust="spacing">J17</text></g>
<rect x="10" y="201" width="34" height="19" rx="2.5" fill="#000"/>
<polygon points="21.2553,204.656 22.1511,192.881 19.4511,184.331 21.5489,183.669 24.2489,192.219 31.7447,201.344" fill="#000"/>
<rect x="12" y="203" width="29" height="14" rx="1.5" fill="#fff"/>
<polygon points="24.5276,205.72 23.8575,194.964 24.0482,194.904 29.6769,204.094" fill="#fff"/>
<g transform="translate(15.8,215.285) scale(0.76,1)"><text x="0" y="0" font-family='"Liberation Sans", sans-serif' font-size="14.2" fill="#000" textLength="26.8421" lengthAdjust="spacing">J18</text></g>
<rect x="39" y="308" width="37" height="19" rx="2.5" fill="#000"/>
<polygon points="41,322.5 31.65,318.1 24,318.1 24,315.9 31.65,315.9 41,311.5" fill="#000"/>
<rect x="41" y="310" width="32" height="14" rx="1.5" fill="#fff"/>
<polygon points="43,319.7 34.15,317.1 34.15,316.9 43,314.3" fill="#fff"/>
<g transform="translate(46.3,322.285) scale(0.76,1)"><text x="0" y="0" font-family='"Liberation Sans", sans-serif' font-size="14.2" fill="#000" textLength="26.8421" lengthAdjust="spacing">J19</text></g>
<rect x="130" y="123" width="35" height="19" rx="2.5" fill="#000"/>
<polygon points="162.835,133.817 166.071,142.29 170.796,147.24 169.204,148.76 164.479,143.81 156.165,140.183" fill="#000"/>
<rect x="132" y="125" width="30" height="14" rx="1.5" fill="#fff"/>
<polygon points="159.428,134.304 163.621,141.173 163.476,141.311 156.81,136.803" fill="#fff"/>
<g transform="translate(136.65,137.285) scale(0.76,1)"><text x="0" y="0" font-family='"Liberation Sans", sans-serif' font-size="14.2" fill="#000" textLength="25.9211" lengthAdjust="spacing">JP1</text></g>
<rect x="127" y="156" width="34" height="17" rx="2.5" fill="#000"/>
<polygon points="158.969,164.964 162.103,173.876 166.828,179.276 165.172,180.724 160.447,175.324 152.031,171.036" fill="#000"/>
<rect x="129" y="158" width="29" height="12" rx="1.5" fill="#fff"/>
<polygon points="155.545,165.303 159.704,172.653 159.553,172.784 152.821,167.687" fill="#fff"/>
<g transform="translate(132.05,169.285) scale(0.76,1)"><text x="0" y="0" font-family='"Liberation Sans", sans-serif' font-size="14.2" fill="#000" textLength="28.8158" lengthAdjust="spacing">JP2</text></g>
<rect x="143" y="229" width="34" height="19" rx="2.5" fill="#000"/>
<polygon points="156.979,228.754 165.671,220.101 169.496,211.551 171.504,212.449 167.679,220.999 167.021,233.246" fill="#000"/>
<rect x="145" y="231" width="29" height="14" rx="1.5" fill="#fff"/>
<polygon points="158.719,231.723 165.563,222.791 165.745,222.873 163.648,233.928" fill="#fff"/>
<g transform="translate(148.05,243.285) scale(0.76,1)"><text x="0" y="0" font-family='"Liberation Sans", sans-serif' font-size="14.2" fill="#000" textLength="28.8158" lengthAdjust="spacing">JP3</text></g>
<rect x="68" y="183" width="59" height="15" rx="2" fill="#000"/>
<rect x="69" y="184" width="57" height="13" fill="#fff"/>
<g transform="translate(69.9,195.3) scale(0.76,1)"><text x="0" y="0" font-family='"Liberation Sans", sans-serif' font-size="13.5" fill="#000" textLength="70.5263" lengthAdjust="spacing">80346DX</text></g>
<rect x="221" y="178" width="33" height="18" rx="2.5" fill="#000"/>
<rect x="223" y="180" width="28" height="13" rx="1.5" fill="#fff"/>
<g transform="translate(224.4,191.785) scale(0.76,1)"><text x="0" y="0" font-family='"Liberation Sans", sans-serif' font-size="14.2" fill="#000" textLength="31.8421" lengthAdjust="spacing">CPU</text></g>
<rect x="219" y="255" width="35" height="18" rx="2.5" fill="#000"/>
<polygon points="251,257.5 261.45,261.9 270,261.9 270,264.1 261.45,264.1 251,268.5" fill="#000"/>
<rect x="221" y="257" width="30" height="13" rx="1.5" fill="#fff"/>
<polygon points="249,260.3 258.95,262.9 258.95,263.1 249,265.7" fill="#fff"/>
<g transform="translate(224.55,268.785) scale(0.76,1)"><text x="0" y="0" font-family='"Liberation Sans", sans-serif' font-size="14.2" fill="#000" textLength="28.8158" lengthAdjust="spacing">JP4</text></g>
<rect x="303" y="255" width="36" height="18" rx="2.5" fill="#000"/>
<polygon points="305,268.5 295.65,264.1 288,264.1 288,261.9 295.65,261.9 305,257.5" fill="#000"/>
<rect x="305" y="257" width="31" height="13" rx="1.5" fill="#fff"/>
<polygon points="307,265.7 298.15,263.1 298.15,262.9 307,260.3" fill="#fff"/>
<g transform="translate(309.05,268.785) scale(0.76,1)"><text x="0" y="0" font-family='"Liberation Sans", sans-serif' font-size="14.2" fill="#000" textLength="28.8158" lengthAdjust="spacing">JP5</text></g>
<rect x="332" y="292" width="26" height="19" rx="2.5" fill="#000"/>
<polygon points="355,295.5 364.9,299.9 373,299.9 373,302.1 364.9,302.1 355,306.5" fill="#000"/>
<rect x="334" y="294" width="21" height="14" rx="1.5" fill="#fff"/>
<polygon points="353,298.3 362.4,300.9 362.4,301.1 353,303.7" fill="#fff"/>
<g transform="translate(337.5,306.285) scale(0.76,1)"><text x="0" y="0" font-family='"Liberation Sans", sans-serif' font-size="14.2" fill="#000" textLength="17.1053" lengthAdjust="spacing">S1</text></g>
<rect x="568" y="315" width="42" height="19" rx="2.5" fill="#000"/>
<polygon points="607,318.5 616.9,322.9 625,322.9 625,325.1 616.9,325.1 607,329.5" fill="#000"/>
<rect x="570" y="317" width="37" height="14" rx="1.5" fill="#fff"/>
<polygon points="605,321.3 614.4,323.9 614.4,324.1 605,326.7" fill="#fff"/>
<g transform="translate(572.95,329.285) scale(0.76,1)"><text x="0" y="0" font-family='"Liberation Sans", sans-serif' font-size="14.2" fill="#000" textLength="39.6053" lengthAdjust="spacing">DIAG</text></g>
<rect x="479" y="162" width="43" height="19" rx="2.5" fill="#000"/>
<polygon points="481,175.5 471.65,171.1 464,171.1 464,168.9 471.65,168.9 481,164.5" fill="#000"/>
<rect x="481" y="164" width="38" height="14" rx="1.5" fill="#fff"/>
<polygon points="483,172.7 474.15,170.1 474.15,169.9 483,167.3" fill="#fff"/>
<g transform="translate(486.3,176.285) scale(0.76,1)"><text x="0" y="0" font-family='"Liberation Sans", sans-serif' font-size="14.2" fill="#000" textLength="34.7368" lengthAdjust="spacing">JP11</text></g>
<rect x="623" y="18" width="26" height="18" rx="2.5" fill="#000"/>
<polygon points="625,31.5 616.2,27.1 609,27.1 609,24.9 616.2,24.9 625,20.5" fill="#000"/>
<rect x="625" y="20" width="21" height="13" rx="1.5" fill="#fff"/>
<polygon points="627,28.7 618.7,26.1 618.7,25.9 627,23.3" fill="#fff"/>
<g transform="translate(628.15,31.7848) scale(0.76,1)"><text x="0" y="0" font-family='"Liberation Sans", sans-serif' font-size="14.2" fill="#000" textLength="18.0263" lengthAdjust="spacing">J7</text></g>
<rect x="708" y="39" width="27" height="18" rx="2.5" fill="#000"/>
<polygon points="732,41.5 741.35,45.9 749,45.9 749,48.1 741.35,48.1 732,52.5" fill="#000"/>
<rect x="710" y="41" width="22" height="13" rx="1.5" fill="#fff"/>
<polygon points="730,44.3 738.85,46.9 738.85,47.1 730,49.7" fill="#fff"/>
<g transform="translate(714.5,52.7848) scale(0.76,1)"><text x="0" y="0" font-family='"Liberation Sans", sans-serif' font-size="14.2" fill="#000" textLength="15.7895" lengthAdjust="spacing">J1</text></g>
<rect x="713" y="141" width="25" height="18" rx="2.5" fill="#000"/>
<polygon points="735,144.5 744.9,148.9 753,148.9 753,151.1 744.9,151.1 735,155.5" fill="#000"/>
<rect x="715" y="143" width="20" height="13" rx="1.5" fill="#fff"/>
<polygon points="733,147.3 742.4,149.9 742.4,150.1 733,152.7" fill="#fff"/>
<g transform="translate(717.65,154.785) scale(0.76,1)"><text x="0" y="0" font-family='"Liberation Sans", sans-serif' font-size="14.2" fill="#000" textLength="18.0263" lengthAdjust="spacing">J2</text></g>
<rect x="709" y="243" width="25" height="18" rx="2.5" fill="#000"/>
<polygon points="731,244.5 741.45,248.9 750,248.9 750,251.1 741.45,251.1 731,255.5" fill="#000"/>
<rect x="711" y="245" width="20" height="13" rx="1.5" fill="#fff"/>
<polygon points="729,247.3 738.95,249.9 738.95,250.1 729,252.7" fill="#fff"/>
<g transform="translate(713.65,256.785) scale(0.76,1)"><text x="0" y="0" font-family='"Liberation Sans", sans-serif' font-size="14.2" fill="#000" textLength="18.0263" lengthAdjust="spacing">J3</text></g>
<rect x="720" y="305" width="27" height="18" rx="2.5" fill="#000"/>
<polygon points="745.049,315.06 748.359,323.688 752.859,329.313 751.141,330.687 746.641,325.062 738.951,319.94" fill="#000"/>
<rect x="722" y="307" width="22" height="13" rx="1.5" fill="#fff"/>
<polygon points="741.614,315.248 746.016,322.36 745.86,322.485 739.888,316.629" fill="#fff"/>
<g transform="translate(725.65,318.785) scale(0.76,1)"><text x="0" y="0" font-family='"Liberation Sans", sans-serif' font-size="14.2" fill="#000" textLength="18.0263" lengthAdjust="spacing">J4</text></g>
<rect x="725" y="349" width="24" height="18" rx="2.5" fill="#000"/>
<polygon points="747,359 752.153,367.597 757.778,373.222 756.222,374.778 750.597,369.153 742,364" fill="#000"/>
<rect x="727" y="351" width="19" height="13" rx="1.5" fill="#fff"/>
<polygon points="743.606,359.566 749.678,366.537 749.537,366.678 742.566,360.606" fill="#fff"/>
<g transform="translate(729.15,362.785) scale(0.76,1)"><text x="0" y="0" font-family='"Liberation Sans", sans-serif' font-size="14.2" fill="#000" textLength="18.0263" lengthAdjust="spacing">J5</text></g>
<rect x="674" y="177" width="45" height="20" rx="2.5" fill="#000"/>
<polygon points="702,194 697.6,204.45 697.6,213 695.4,213 695.4,204.45 691,194" fill="#000"/>
<rect x="676" y="179" width="40" height="15" rx="1.5" fill="#fff"/>
<polygon points="699.2,192 696.6,201.95 696.4,201.95 693.8,192" fill="#fff"/>
<g transform="translate(681.2,191.785) scale(0.76,1)"><text x="0" y="0" font-family='"Liberation Sans", sans-serif' font-size="14.2" fill="#000" textLength="37.6316" lengthAdjust="spacing">JP18</text></g>
<rect x="579" y="179" width="40" height="17" rx="2.5" fill="#000"/>
<polygon points="581,192.5 571.1,188.1 563,188.1 563,185.9 571.1,185.9 581,181.5" fill="#000"/>
<rect x="581" y="181" width="35" height="12" rx="1.5" fill="#fff"/>
<polygon points="583,189.7 573.6,187.1 573.6,186.9 583,184.3" fill="#fff"/>
<g transform="translate(584.05,192.285) scale(0.76,1)"><text x="0" y="0" font-family='"Liberation Sans", sans-serif' font-size="14.2" fill="#000" textLength="36.7105" lengthAdjust="spacing">JP21</text></g>
<rect x="579" y="199" width="62" height="17" rx="2.5" fill="#000"/>
<polygon points="581,212.5 571.1,208.1 563,208.1 563,205.9 571.1,205.9 581,201.5" fill="#000"/>
<rect x="581" y="201" width="57" height="12" rx="1.5" fill="#fff"/>
<polygon points="583,209.7 573.6,207.1 573.6,206.9 583,204.3" fill="#fff"/>
<g transform="translate(582.4,212.285) scale(0.76,1)"><text x="0" y="0" font-family='"Liberation Sans", sans-serif' font-size="14.2" fill="#000" textLength="70" lengthAdjust="spacing">JP14/S2</text></g>
<rect x="579" y="218" width="63" height="16" rx="2.5" fill="#000"/>
<polygon points="581,231.5 571.1,227.1 563,227.1 563,224.9 571.1,224.9 581,220.5" fill="#000"/>
<rect x="581" y="220" width="58" height="11" rx="1.5" fill="#fff"/>
<polygon points="583,228.7 573.6,226.1 573.6,225.9 583,223.3" fill="#fff"/>
<g transform="translate(584,230.785) scale(0.76,1)"><text x="0" y="0" font-family='"Liberation Sans", sans-serif' font-size="14.2" fill="#000" textLength="67.1053" lengthAdjust="spacing">JP14/S1</text></g>
<rect x="579" y="238" width="63" height="17" rx="2.5" fill="#000"/>
<polygon points="581,251.5 571.1,247.1 563,247.1 563,244.9 571.1,244.9 581,240.5" fill="#000"/>
<rect x="581" y="240" width="58" height="12" rx="1.5" fill="#fff"/>
<polygon points="583,248.7 573.6,246.1 573.6,245.9 583,243.3" fill="#fff"/>
<g transform="translate(582.9,251.285) scale(0.76,1)"><text x="0" y="0" font-family='"Liberation Sans", sans-serif' font-size="14.2" fill="#000" textLength="70" lengthAdjust="spacing">JP14/PP</text></g>
<rect x="671" y="368" width="25" height="18" rx="2.5" fill="#000"/>
<polygon points="693,371.5 703.45,375.9 712,375.9 712,378.1 703.45,378.1 693,382.5" fill="#000"/>
<rect x="673" y="370" width="20" height="13" rx="1.5" fill="#fff"/>
<polygon points="691,374.3 700.95,376.9 700.95,377.1 691,379.7" fill="#fff"/>
<g transform="translate(676,381.785) scale(0.76,1)"><text x="0" y="0" font-family='"Liberation Sans", sans-serif' font-size="14.2" fill="#000" textLength="17.1053" lengthAdjust="spacing">P1</text></g>
<rect x="724" y="405" width="25" height="19" rx="2.5" fill="#000"/>
<polygon points="747,416 751.603,424.047 756.778,429.222 755.222,430.778 750.047,425.603 742,421" fill="#000"/>
<rect x="726" y="407" width="20" height="14" rx="1.5" fill="#fff"/>
<polygon points="743.606,416.566 749.128,422.987 748.987,423.128 742.566,417.606" fill="#fff"/>
<g transform="translate(728.65,419.285) scale(0.76,1)"><text x="0" y="0" font-family='"Liberation Sans", sans-serif' font-size="14.2" fill="#000" textLength="18.0263" lengthAdjust="spacing">J6</text></g>
<rect x="684" y="448" width="42" height="19" rx="2.5" fill="#000"/>
<polygon points="716.973,447.789 724.857,443.139 730.257,438.189 731.743,439.811 726.343,444.761 721.027,452.211" fill="#000"/>
<rect x="686" y="450" width="37" height="14" rx="1.5" fill="#fff"/>
<polygon points="717.391,451.204 723.69,445.566 723.825,445.713 717.661,451.499" fill="#fff"/>
<g transform="translate(689.7,462.285) scale(0.76,1)"><text x="0" y="0" font-family='"Liberation Sans", sans-serif' font-size="14.2" fill="#000" textLength="37.6316" lengthAdjust="spacing">JP19</text></g>
<rect x="637" y="439" width="40" height="15" rx="2.5" fill="#000"/>
<polygon points="639,450.5 628,446.1 619,446.1 619,443.9 628,443.9 639,439.5" fill="#000"/>
<rect x="638" y="440" width="37" height="12" rx="1.5" fill="#fff"/>
<polygon points="641,447.7 630.5,445.1 630.5,444.9 641,442.3" fill="#fff"/>
<g transform="translate(640.95,451.044) scale(0.76,1)"><text x="0" y="0" font-family='"Liberation Sans", sans-serif' font-size="13.5" fill="#000" textLength="39.6053" lengthAdjust="spacing">JP20</text></g>
<rect x="367" y="347" width="36" height="18" rx="2.5" fill="#000"/>
<polygon points="400,349.5 410.45,353.9 419,353.9 419,356.1 410.45,356.1 400,360.5" fill="#000"/>
<rect x="369" y="349" width="31" height="13" rx="1.5" fill="#fff"/>
<polygon points="398,352.3 407.95,354.9 407.95,355.1 398,357.7" fill="#fff"/>
<g transform="translate(373.8,360.785) scale(0.76,1)"><text x="0" y="0" font-family='"Liberation Sans", sans-serif' font-size="14.2" fill="#000" textLength="26.8421" lengthAdjust="spacing">J13</text></g>
<rect x="472" y="347" width="36" height="18" rx="2.5" fill="#000"/>
<polygon points="474,360.5 464.1,356.1 456,356.1 456,353.9 464.1,353.9 474,349.5" fill="#000"/>
<rect x="474" y="349" width="31" height="13" rx="1.5" fill="#fff"/>
<polygon points="476,357.7 466.6,355.1 466.6,354.9 476,352.3" fill="#fff"/>
<g transform="translate(478.8,360.785) scale(0.76,1)"><text x="0" y="0" font-family='"Liberation Sans", sans-serif' font-size="14.2" fill="#000" textLength="26.8421" lengthAdjust="spacing">J12</text></g>
<rect x="393" y="462" width="33" height="18" rx="2.5" fill="#000"/>
<polygon points="395,475.5 385.1,471.1 377,471.1 377,468.9 385.1,468.9 395,464.5" fill="#000"/>
<rect x="395" y="464" width="28" height="13" rx="1.5" fill="#fff"/>
<polygon points="397,472.7 387.6,470.1 387.6,469.9 397,467.3" fill="#fff"/>
<g transform="translate(398.3,475.785) scale(0.76,1)"><text x="0" y="0" font-family='"Liberation Sans", sans-serif' font-size="14.2" fill="#000" textLength="26.8421" lengthAdjust="spacing">J14</text></g>
<rect x="322" y="439" width="43" height="18" rx="2.5" fill="#000"/>
<polygon points="328.744,456.441 319.939,460.395 313.639,464.895 312.361,463.105 318.661,458.605 325.256,451.559" fill="#000"/>
<rect x="324" y="441" width="38" height="13" rx="1.5" fill="#fff"/>
<polygon points="328.744,453 321.392,458.128 321.276,457.966 328.511,452.675" fill="#fff"/>
<g transform="translate(328.2,452.785) scale(0.76,1)"><text x="0" y="0" font-family='"Liberation Sans", sans-serif' font-size="14.2" fill="#000" textLength="37.6316" lengthAdjust="spacing">JP12</text></g>
<rect x="237" y="448" width="40" height="17" rx="2.5" fill="#000"/>
<polygon points="274,452.5 284.45,456.9 293,456.9 293,459.1 284.45,459.1 274,463.5" fill="#000"/>
<rect x="239" y="450" width="35" height="12" rx="1.5" fill="#fff"/>
<polygon points="272,455.3 281.95,457.9 281.95,458.1 272,460.7" fill="#fff"/>
<g transform="translate(241.7,461.285) scale(0.76,1)"><text x="0" y="0" font-family='"Liberation Sans", sans-serif' font-size="14.2" fill="#000" textLength="37.6316" lengthAdjust="spacing">JP13</text></g>
<rect x="282" y="384" width="25" height="19" rx="2.5" fill="#000"/>
<polygon points="299.5,400 295.1,410.45 295.1,419 292.9,419 292.9,410.45 288.5,400" fill="#000"/>
<rect x="284" y="386" width="20" height="14" rx="1.5" fill="#fff"/>
<polygon points="296.7,398 294.1,407.95 293.9,407.95 291.3,398" fill="#fff"/>
<g transform="translate(287,398.285) scale(0.76,1)"><text x="0" y="0" font-family='"Liberation Sans", sans-serif' font-size="14.2" fill="#000" textLength="17.1053" lengthAdjust="spacing">S1</text></g>
<rect x="250" y="402" width="25" height="19" rx="2.5" fill="#000"/>
<polygon points="271.649,411.597 277.318,419.815 283.618,424.09 282.382,425.91 276.082,421.635 266.351,419.403" fill="#000"/>
<rect x="252" y="404" width="20" height="14" rx="1.5" fill="#fff"/>
<polygon points="268.421,412.791 274.687,419.238 274.575,419.404 266.269,415.963" fill="#fff"/>
<g transform="translate(254.65,416.285) scale(0.76,1)"><text x="0" y="0" font-family='"Liberation Sans", sans-serif' font-size="14.2" fill="#000" textLength="18.0263" lengthAdjust="spacing">S2</text></g>
<rect x="320" y="416" width="25" height="19" rx="2.5" fill="#000"/>
<polygon points="322,431.5 312.65,427.1 305,427.1 305,424.9 312.65,424.9 322,420.5" fill="#000"/>
<rect x="322" y="418" width="20" height="14" rx="1.5" fill="#fff"/>
<polygon points="324,428.7 315.15,426.1 315.15,425.9 324,423.3" fill="#fff"/>
<g transform="translate(324.65,430.285) scale(0.76,1)"><text x="0" y="0" font-family='"Liberation Sans", sans-serif' font-size="14.2" fill="#000" textLength="18.0263" lengthAdjust="spacing">S0</text></g>
<rect x="137" y="383" width="49" height="19" rx="2.5" fill="#000"/>
<rect x="138" y="385" width="47" height="14" fill="#fff"/>
<g transform="translate(139,396.6) scale(0.76,1)"><text x="0" y="0" font-family='"Liberation Sans", sans-serif' font-size="14.2" fill="#000" textLength="56.5789" lengthAdjust="spacing">CACHE</text></g>
<rect x="89" y="414" width="56" height="14" fill="#fff"/>
<g transform="translate(92.75,425.7) scale(0.76,1)"><text x="0" y="0" font-family='"Liberation Sans", sans-serif' font-size="14.2" fill="#000" textLength="60.5263" lengthAdjust="spacing">BANK 0</text></g>
<rect x="178" y="414" width="57" height="14" fill="#fff"/>
<g transform="translate(182,425.7) scale(0.76,1)"><text x="0" y="0" font-family='"Liberation Sans", sans-serif' font-size="14.2" fill="#000" textLength="59.2105" lengthAdjust="spacing">BANK 1</text></g>
<rect x="109" y="347" width="32" height="16" rx="2" fill="#000"/>
<rect x="110" y="348" width="30" height="14" rx="1.5" fill="#fff"/>
<g transform="translate(112.85,359) scale(0.76,1)"><text x="0" y="0" font-family='"Liberation Sans", sans-serif' font-size="13.6" fill="#000" textLength="30.6579" lengthAdjust="spacing">TAG</text></g>
<rect x="113" y="309" width="36" height="19" rx="2.5" fill="#000"/>
<polygon points="146,312.5 155.9,316.9 164,316.9 164,319.1 155.9,319.1 146,323.5" fill="#000"/>
<rect x="115" y="311" width="31" height="14" rx="1.5" fill="#fff"/>
<polygon points="144,315.3 153.4,317.9 153.4,318.1 144,320.7" fill="#fff"/>
<g transform="translate(119.05,323.285) scale(0.76,1)"><text x="0" y="0" font-family='"Liberation Sans", sans-serif' font-size="14.2" fill="#000" textLength="28.8158" lengthAdjust="spacing">JP6</text></g>
<rect x="195" y="318" width="35" height="19" rx="2.5" fill="#000"/>
<polygon points="197,330.5 187.1,326.1 179,326.1 179,323.9 187.1,323.9 197,319.5" fill="#000"/>
<rect x="197" y="320" width="30" height="14" rx="1.5" fill="#fff"/>
<polygon points="199,327.7 189.6,325.1 189.6,324.9 199,322.3" fill="#fff"/>
<g transform="translate(200.55,332.285) scale(0.76,1)"><text x="0" y="0" font-family='"Liberation Sans", sans-serif' font-size="14.2" fill="#000" textLength="28.8158" lengthAdjust="spacing">JP7</text></g>
</svg></body></html>
